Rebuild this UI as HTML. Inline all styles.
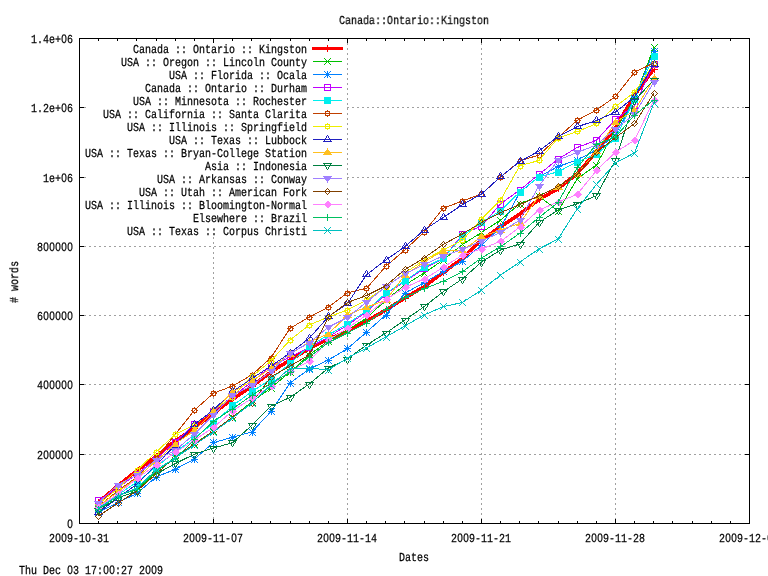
<!DOCTYPE html><html><head><meta charset="utf-8"><title>Canada::Ontario::Kingston</title>
<style>html,body{margin:0;padding:0;background:#fff;}body{width:768px;height:576px;overflow:hidden;}svg{display:block;will-change:transform;}text{font-family:"Liberation Mono",monospace;font-size:12.2px;fill:#000;white-space:pre;text-rendering:geometricPrecision;stroke:#000;stroke-width:0.25px;}.z{font-family:"Liberation Sans",sans-serif;}</style></head><body>
<svg width="768" height="576" viewBox="0 0 768 576">
<defs><filter id="idf" x="-5%" y="-5%" width="110%" height="110%" color-interpolation-filters="sRGB"><feOffset dx="0" dy="0"/></filter></defs>
<rect width="768" height="576" fill="#fff"/>
<g stroke="#a0a0a0" stroke-width="1" stroke-dasharray="2 3" shape-rendering="crispEdges"><line x1="79.0" y1="454.5" x2="750.0" y2="454.5"/><line x1="79.0" y1="384.5" x2="750.0" y2="384.5"/><line x1="79.0" y1="315.5" x2="750.0" y2="315.5"/><line x1="79.0" y1="246.5" x2="750.0" y2="246.5"/><line x1="84" y1="177.5" x2="86" y2="177.5"/><line x1="347" y1="177.5" x2="750.0" y2="177.5"/><line x1="84" y1="107.5" x2="86" y2="107.5"/><line x1="347" y1="107.5" x2="750.0" y2="107.5"/><line x1="213.5" y1="519" x2="213.5" y2="237"/><line x1="347.5" y1="520" x2="347.5" y2="39"/><line x1="481.5" y1="520" x2="481.5" y2="39"/><line x1="615.5" y1="520" x2="615.5" y2="39"/></g>
<g stroke="#000" stroke-width="1" shape-rendering="crispEdges"><rect x="79.5" y="38.5" width="670.0" height="485.0" fill="none"/><line x1="79.5" y1="524.0" x2="79.5" y2="519.0"/><line x1="79.5" y1="38.0" x2="79.5" y2="43.0"/><line x1="98.5" y1="524.0" x2="98.5" y2="521.0"/><line x1="98.5" y1="38.0" x2="98.5" y2="41.0"/><line x1="117.5" y1="524.0" x2="117.5" y2="521.0"/><line x1="117.5" y1="38.0" x2="117.5" y2="41.0"/><line x1="136.5" y1="524.0" x2="136.5" y2="521.0"/><line x1="136.5" y1="38.0" x2="136.5" y2="41.0"/><line x1="156.5" y1="524.0" x2="156.5" y2="521.0"/><line x1="156.5" y1="38.0" x2="156.5" y2="41.0"/><line x1="175.5" y1="524.0" x2="175.5" y2="521.0"/><line x1="175.5" y1="38.0" x2="175.5" y2="41.0"/><line x1="194.5" y1="524.0" x2="194.5" y2="521.0"/><line x1="194.5" y1="38.0" x2="194.5" y2="41.0"/><line x1="213.5" y1="524.0" x2="213.5" y2="519.0"/><line x1="213.5" y1="38.0" x2="213.5" y2="43.0"/><line x1="232.5" y1="524.0" x2="232.5" y2="521.0"/><line x1="232.5" y1="38.0" x2="232.5" y2="41.0"/><line x1="251.5" y1="524.0" x2="251.5" y2="521.0"/><line x1="251.5" y1="38.0" x2="251.5" y2="41.0"/><line x1="270.5" y1="524.0" x2="270.5" y2="521.0"/><line x1="270.5" y1="38.0" x2="270.5" y2="41.0"/><line x1="290.5" y1="524.0" x2="290.5" y2="521.0"/><line x1="290.5" y1="38.0" x2="290.5" y2="41.0"/><line x1="309.5" y1="524.0" x2="309.5" y2="521.0"/><line x1="309.5" y1="38.0" x2="309.5" y2="41.0"/><line x1="328.5" y1="524.0" x2="328.5" y2="521.0"/><line x1="328.5" y1="38.0" x2="328.5" y2="41.0"/><line x1="347.5" y1="524.0" x2="347.5" y2="519.0"/><line x1="347.5" y1="38.0" x2="347.5" y2="43.0"/><line x1="366.5" y1="524.0" x2="366.5" y2="521.0"/><line x1="366.5" y1="38.0" x2="366.5" y2="41.0"/><line x1="385.5" y1="524.0" x2="385.5" y2="521.0"/><line x1="385.5" y1="38.0" x2="385.5" y2="41.0"/><line x1="404.5" y1="524.0" x2="404.5" y2="521.0"/><line x1="404.5" y1="38.0" x2="404.5" y2="41.0"/><line x1="424.5" y1="524.0" x2="424.5" y2="521.0"/><line x1="424.5" y1="38.0" x2="424.5" y2="41.0"/><line x1="443.5" y1="524.0" x2="443.5" y2="521.0"/><line x1="443.5" y1="38.0" x2="443.5" y2="41.0"/><line x1="462.5" y1="524.0" x2="462.5" y2="521.0"/><line x1="462.5" y1="38.0" x2="462.5" y2="41.0"/><line x1="481.5" y1="524.0" x2="481.5" y2="519.0"/><line x1="481.5" y1="38.0" x2="481.5" y2="43.0"/><line x1="500.5" y1="524.0" x2="500.5" y2="521.0"/><line x1="500.5" y1="38.0" x2="500.5" y2="41.0"/><line x1="519.5" y1="524.0" x2="519.5" y2="521.0"/><line x1="519.5" y1="38.0" x2="519.5" y2="41.0"/><line x1="538.5" y1="524.0" x2="538.5" y2="521.0"/><line x1="538.5" y1="38.0" x2="538.5" y2="41.0"/><line x1="558.5" y1="524.0" x2="558.5" y2="521.0"/><line x1="558.5" y1="38.0" x2="558.5" y2="41.0"/><line x1="577.5" y1="524.0" x2="577.5" y2="521.0"/><line x1="577.5" y1="38.0" x2="577.5" y2="41.0"/><line x1="596.5" y1="524.0" x2="596.5" y2="521.0"/><line x1="596.5" y1="38.0" x2="596.5" y2="41.0"/><line x1="615.5" y1="524.0" x2="615.5" y2="519.0"/><line x1="615.5" y1="38.0" x2="615.5" y2="43.0"/><line x1="634.5" y1="524.0" x2="634.5" y2="521.0"/><line x1="634.5" y1="38.0" x2="634.5" y2="41.0"/><line x1="653.5" y1="524.0" x2="653.5" y2="521.0"/><line x1="653.5" y1="38.0" x2="653.5" y2="41.0"/><line x1="672.5" y1="524.0" x2="672.5" y2="521.0"/><line x1="672.5" y1="38.0" x2="672.5" y2="41.0"/><line x1="692.5" y1="524.0" x2="692.5" y2="521.0"/><line x1="692.5" y1="38.0" x2="692.5" y2="41.0"/><line x1="711.5" y1="524.0" x2="711.5" y2="521.0"/><line x1="711.5" y1="38.0" x2="711.5" y2="41.0"/><line x1="730.5" y1="524.0" x2="730.5" y2="521.0"/><line x1="730.5" y1="38.0" x2="730.5" y2="41.0"/><line x1="749.5" y1="524.0" x2="749.5" y2="519.0"/><line x1="749.5" y1="38.0" x2="749.5" y2="43.0"/><line x1="79.0" y1="523.5" x2="84.0" y2="523.5"/><line x1="750.0" y1="523.5" x2="745.0" y2="523.5"/><line x1="79.0" y1="454.5" x2="84.0" y2="454.5"/><line x1="750.0" y1="454.5" x2="745.0" y2="454.5"/><line x1="79.0" y1="384.5" x2="84.0" y2="384.5"/><line x1="750.0" y1="384.5" x2="745.0" y2="384.5"/><line x1="79.0" y1="315.5" x2="84.0" y2="315.5"/><line x1="750.0" y1="315.5" x2="745.0" y2="315.5"/><line x1="79.0" y1="246.5" x2="84.0" y2="246.5"/><line x1="750.0" y1="246.5" x2="745.0" y2="246.5"/><line x1="79.0" y1="177.5" x2="84.0" y2="177.5"/><line x1="750.0" y1="177.5" x2="745.0" y2="177.5"/><line x1="79.0" y1="107.5" x2="84.0" y2="107.5"/><line x1="750.0" y1="107.5" x2="745.0" y2="107.5"/><line x1="79.0" y1="38.5" x2="84.0" y2="38.5"/><line x1="750.0" y1="38.5" x2="745.0" y2="38.5"/></g>
<g filter="url(#idf)">
<text transform="translate(67,528) scale(0.8197,1)" y="0"><tspan class="z" x="0.30">0</tspan></text>
<text transform="translate(37,459) scale(0.8197,1)" y="0"><tspan x="0.00">2</tspan><tspan class="z" x="7.62">0</tspan><tspan class="z" x="14.94">0</tspan><tspan class="z" x="22.26">0</tspan><tspan class="z" x="29.58">0</tspan><tspan class="z" x="36.90">0</tspan></text>
<text transform="translate(37,389) scale(0.8197,1)" y="0"><tspan x="0.00">4</tspan><tspan class="z" x="7.62">0</tspan><tspan class="z" x="14.94">0</tspan><tspan class="z" x="22.26">0</tspan><tspan class="z" x="29.58">0</tspan><tspan class="z" x="36.90">0</tspan></text>
<text transform="translate(37,320) scale(0.8197,1)" y="0"><tspan x="0.00">6</tspan><tspan class="z" x="7.62">0</tspan><tspan class="z" x="14.94">0</tspan><tspan class="z" x="22.26">0</tspan><tspan class="z" x="29.58">0</tspan><tspan class="z" x="36.90">0</tspan></text>
<text transform="translate(37,251) scale(0.8197,1)" y="0"><tspan x="0.00">8</tspan><tspan class="z" x="7.62">0</tspan><tspan class="z" x="14.94">0</tspan><tspan class="z" x="22.26">0</tspan><tspan class="z" x="29.58">0</tspan><tspan class="z" x="36.90">0</tspan></text>
<text transform="translate(43,182) scale(0.8197,1)" y="0"><tspan x="0.00 7.32 14.64">1e+</tspan><tspan class="z" x="22.26">0</tspan><tspan x="29.28">6</tspan></text>
<text transform="translate(31,112) scale(0.8197,1)" y="0"><tspan x="0.00 7.32 14.64 21.96 29.28">1.2e+</tspan><tspan class="z" x="36.90">0</tspan><tspan x="43.92">6</tspan></text>
<text transform="translate(31,43) scale(0.8197,1)" y="0"><tspan x="0.00 7.32 14.64 21.96 29.28">1.4e+</tspan><tspan class="z" x="36.90">0</tspan><tspan x="43.92">6</tspan></text>
<text transform="translate(49.0,542) scale(0.8197,1)" y="0"><tspan x="0.00">2</tspan><tspan class="z" x="7.62">0</tspan><tspan class="z" x="14.94">0</tspan><tspan x="21.96 29.28 36.60">9-1</tspan><tspan class="z" x="44.22">0</tspan><tspan x="51.24 58.56 65.88">-31</tspan></text>
<text transform="translate(183.0,542) scale(0.8197,1)" y="0"><tspan x="0.00">2</tspan><tspan class="z" x="7.62">0</tspan><tspan class="z" x="14.94">0</tspan><tspan x="21.96 29.28 36.60 43.92 51.24">9-11-</tspan><tspan class="z" x="58.86">0</tspan><tspan x="65.88">7</tspan></text>
<text transform="translate(317.0,542) scale(0.8197,1)" y="0"><tspan x="0.00">2</tspan><tspan class="z" x="7.62">0</tspan><tspan class="z" x="14.94">0</tspan><tspan x="21.96 29.28 36.60 43.92 51.24 58.56 65.88">9-11-14</tspan></text>
<text transform="translate(451.0,542) scale(0.8197,1)" y="0"><tspan x="0.00">2</tspan><tspan class="z" x="7.62">0</tspan><tspan class="z" x="14.94">0</tspan><tspan x="21.96 29.28 36.60 43.92 51.24 58.56 65.88">9-11-21</tspan></text>
<text transform="translate(585.0,542) scale(0.8197,1)" y="0"><tspan x="0.00">2</tspan><tspan class="z" x="7.62">0</tspan><tspan class="z" x="14.94">0</tspan><tspan x="21.96 29.28 36.60 43.92 51.24 58.56 65.88">9-11-28</tspan></text>
<text transform="translate(719.0,542) scale(0.8197,1)" y="0"><tspan x="0.00">2</tspan><tspan class="z" x="7.62">0</tspan><tspan class="z" x="14.94">0</tspan><tspan x="21.96 29.28 36.60 43.92 51.24">9-12-</tspan><tspan class="z" x="58.86">0</tspan><tspan x="65.88">5</tspan></text>
<text transform="translate(339.0,24) scale(0.8197,1)" y="0"><tspan x="0.00 7.32 14.64 21.96 29.28 36.60 43.92 51.24 58.56 65.88 73.20 80.52 87.84 95.16 102.48 109.80 117.12 124.44 131.76 139.08 146.40 153.72 161.04 168.36 175.68">Canada::Ontario::Kingston</tspan></text>
<text transform="translate(399.0,561) scale(0.8197,1)" y="0"><tspan x="0.00 7.32 14.64 21.96 29.28">Dates</tspan></text>
<text transform="translate(19,574) scale(0.8197,1)" y="0"><tspan x="0.00 7.32 14.64">Thu</tspan><tspan x="29.28 36.60 43.92">Dec</tspan><tspan class="z" x="58.86">0</tspan><tspan x="65.88">3</tspan><tspan x="80.52 87.84 95.16">17:</tspan><tspan class="z" x="102.78">0</tspan><tspan class="z" x="110.10">0</tspan><tspan x="117.12 124.44 131.76">:27</tspan><tspan x="146.40">2</tspan><tspan class="z" x="154.02">0</tspan><tspan class="z" x="161.34">0</tspan><tspan x="168.36">9</tspan></text>
<text transform="translate(18,282) rotate(-90) translate(-21.0,0) scale(0.8197,1)" y="0"><tspan x="0.00">#</tspan><tspan x="14.64 21.96 29.28 36.60 43.92">words</tspan></text>
</g>
<g filter="url(#idf)"><text transform="translate(133,53) scale(0.8197,1)" y="0"><tspan x="0.00 7.32 14.64 21.96 29.28 36.60">Canada</tspan><tspan x="51.24 58.56">::</tspan><tspan x="73.20 80.52 87.84 95.16 102.48 109.80 117.12">Ontario</tspan><tspan x="131.76 139.08">::</tspan><tspan x="153.72 161.04 168.36 175.68 183.00 190.32 197.64 204.96">Kingston</tspan></text></g>
<g shape-rendering="crispEdges">
<line x1="312" y1="48.5" x2="343" y2="48.5" stroke="#ff0000" stroke-width="3"/>
<polyline fill="none" stroke="#ff0000" stroke-width="3.6" stroke-linejoin="round" points="98.6,502.0 117.8,486.0 136.9,470.5 156.1,456.5 175.2,441.0 194.4,428.0 213.5,413.0 232.6,399.0 251.8,386.5 270.9,372.0 290.1,360.0 309.2,348.5 328.4,339.0 347.5,331.5 366.6,321.0 385.8,310.0 404.9,298.0 424.1,286.7 443.2,272.5 462.4,258.5 481.5,240.0 500.6,226.7 519.8,214.0 538.9,199.5 558.1,188.7 577.2,173.5 596.4,152.0 615.5,127.5 634.6,95.0 653.8,69.0"/>
<path d="M324.0 48.5H331.0M327.5 45.0V52.0" stroke="#ff0000" stroke-width="1" fill="none"/>
<path d="M95.0 502.5H102.0M98.5 499.0V506.0" stroke="#ff0000" stroke-width="1" fill="none"/>
<path d="M115.0 486.5H122.0M118.5 483.0V490.0" stroke="#ff0000" stroke-width="1" fill="none"/>
<path d="M134.0 470.5H141.0M137.5 467.0V474.0" stroke="#ff0000" stroke-width="1" fill="none"/>
<path d="M153.0 456.5H160.0M156.5 453.0V460.0" stroke="#ff0000" stroke-width="1" fill="none"/>
<path d="M172.0 441.5H179.0M175.5 438.0V445.0" stroke="#ff0000" stroke-width="1" fill="none"/>
<path d="M191.0 428.5H198.0M194.5 425.0V432.0" stroke="#ff0000" stroke-width="1" fill="none"/>
<path d="M210.0 413.5H217.0M213.5 410.0V417.0" stroke="#ff0000" stroke-width="1" fill="none"/>
<path d="M229.0 399.5H236.0M232.5 396.0V403.0" stroke="#ff0000" stroke-width="1" fill="none"/>
<path d="M249.0 386.5H256.0M252.5 383.0V390.0" stroke="#ff0000" stroke-width="1" fill="none"/>
<path d="M268.0 372.5H275.0M271.5 369.0V376.0" stroke="#ff0000" stroke-width="1" fill="none"/>
<path d="M287.0 360.5H294.0M290.5 357.0V364.0" stroke="#ff0000" stroke-width="1" fill="none"/>
<path d="M306.0 348.5H313.0M309.5 345.0V352.0" stroke="#ff0000" stroke-width="1" fill="none"/>
<path d="M325.0 339.5H332.0M328.5 336.0V343.0" stroke="#ff0000" stroke-width="1" fill="none"/>
<path d="M344.0 331.5H351.0M347.5 328.0V335.0" stroke="#ff0000" stroke-width="1" fill="none"/>
<path d="M363.0 321.5H370.0M366.5 318.0V325.0" stroke="#ff0000" stroke-width="1" fill="none"/>
<path d="M383.0 310.5H390.0M386.5 307.0V314.0" stroke="#ff0000" stroke-width="1" fill="none"/>
<path d="M402.0 298.5H409.0M405.5 295.0V302.0" stroke="#ff0000" stroke-width="1" fill="none"/>
<path d="M421.0 286.5H428.0M424.5 283.0V290.0" stroke="#ff0000" stroke-width="1" fill="none"/>
<path d="M440.0 272.5H447.0M443.5 269.0V276.0" stroke="#ff0000" stroke-width="1" fill="none"/>
<path d="M459.0 258.5H466.0M462.5 255.0V262.0" stroke="#ff0000" stroke-width="1" fill="none"/>
<path d="M478.0 240.5H485.0M481.5 237.0V244.0" stroke="#ff0000" stroke-width="1" fill="none"/>
<path d="M497.0 226.5H504.0M500.5 223.0V230.0" stroke="#ff0000" stroke-width="1" fill="none"/>
<path d="M517.0 214.5H524.0M520.5 211.0V218.0" stroke="#ff0000" stroke-width="1" fill="none"/>
<path d="M536.0 199.5H543.0M539.5 196.0V203.0" stroke="#ff0000" stroke-width="1" fill="none"/>
<path d="M555.0 188.5H562.0M558.5 185.0V192.0" stroke="#ff0000" stroke-width="1" fill="none"/>
<path d="M574.0 173.5H581.0M577.5 170.0V177.0" stroke="#ff0000" stroke-width="1" fill="none"/>
<path d="M593.0 152.5H600.0M596.5 149.0V156.0" stroke="#ff0000" stroke-width="1" fill="none"/>
<path d="M612.0 127.5H619.0M615.5 124.0V131.0" stroke="#ff0000" stroke-width="1" fill="none"/>
<path d="M631.0 95.5H638.0M634.5 92.0V99.0" stroke="#ff0000" stroke-width="1" fill="none"/>
<path d="M651.0 69.5H658.0M654.5 66.0V73.0" stroke="#ff0000" stroke-width="1" fill="none"/>
</g>
<g filter="url(#idf)"><text transform="translate(121,66) scale(0.8197,1)" y="0"><tspan x="0.00 7.32 14.64">USA</tspan><tspan x="29.28 36.60">::</tspan><tspan x="51.24 58.56 65.88 73.20 80.52 87.84">Oregon</tspan><tspan x="102.48 109.80">::</tspan><tspan x="124.44 131.76 139.08 146.40 153.72 161.04 168.36">Lincoln</tspan><tspan x="183.00 190.32 197.64 204.96 212.28 219.60">County</tspan></text></g>
<g shape-rendering="crispEdges">
<line x1="313" y1="61.5" x2="342" y2="61.5" stroke="#00c000" stroke-width="1"/>
<polyline fill="none" stroke="#00c000" stroke-width="1" stroke-linejoin="round" points="98.6,508.0 117.8,495.0 136.9,490.0 156.1,472.0 175.2,457.0 194.4,443.8 213.5,431.0 232.6,417.0 251.8,402.0 270.9,388.0 290.1,372.0 309.2,355.0 328.4,341.0 347.5,330.0 366.6,318.0 385.8,300.0 404.9,285.0 424.1,273.0 443.2,260.0 462.4,244.5 481.5,232.5 500.6,220.0 519.8,203.8 538.9,196.0 558.1,211.0 577.2,178.8 596.4,165.0 615.5,130.0 634.6,98.0 653.8,47.5"/>
<path d="M324.0 58.0L331.0 65.0M324.0 65.0L331.0 58.0" stroke="#00c000" stroke-width="1" fill="none"/>
<path d="M95.0 505.0L102.0 512.0M95.0 512.0L102.0 505.0" stroke="#00c000" stroke-width="1" fill="none"/>
<path d="M115.0 492.0L122.0 499.0M115.0 499.0L122.0 492.0" stroke="#00c000" stroke-width="1" fill="none"/>
<path d="M134.0 487.0L141.0 494.0M134.0 494.0L141.0 487.0" stroke="#00c000" stroke-width="1" fill="none"/>
<path d="M153.0 469.0L160.0 476.0M153.0 476.0L160.0 469.0" stroke="#00c000" stroke-width="1" fill="none"/>
<path d="M172.0 454.0L179.0 461.0M172.0 461.0L179.0 454.0" stroke="#00c000" stroke-width="1" fill="none"/>
<path d="M191.0 441.0L198.0 448.0M191.0 448.0L198.0 441.0" stroke="#00c000" stroke-width="1" fill="none"/>
<path d="M210.0 428.0L217.0 435.0M210.0 435.0L217.0 428.0" stroke="#00c000" stroke-width="1" fill="none"/>
<path d="M229.0 414.0L236.0 421.0M229.0 421.0L236.0 414.0" stroke="#00c000" stroke-width="1" fill="none"/>
<path d="M249.0 399.0L256.0 406.0M249.0 406.0L256.0 399.0" stroke="#00c000" stroke-width="1" fill="none"/>
<path d="M268.0 385.0L275.0 392.0M268.0 392.0L275.0 385.0" stroke="#00c000" stroke-width="1" fill="none"/>
<path d="M287.0 369.0L294.0 376.0M287.0 376.0L294.0 369.0" stroke="#00c000" stroke-width="1" fill="none"/>
<path d="M306.0 352.0L313.0 359.0M306.0 359.0L313.0 352.0" stroke="#00c000" stroke-width="1" fill="none"/>
<path d="M325.0 338.0L332.0 345.0M325.0 345.0L332.0 338.0" stroke="#00c000" stroke-width="1" fill="none"/>
<path d="M344.0 327.0L351.0 334.0M344.0 334.0L351.0 327.0" stroke="#00c000" stroke-width="1" fill="none"/>
<path d="M363.0 315.0L370.0 322.0M363.0 322.0L370.0 315.0" stroke="#00c000" stroke-width="1" fill="none"/>
<path d="M383.0 297.0L390.0 304.0M383.0 304.0L390.0 297.0" stroke="#00c000" stroke-width="1" fill="none"/>
<path d="M402.0 282.0L409.0 289.0M402.0 289.0L409.0 282.0" stroke="#00c000" stroke-width="1" fill="none"/>
<path d="M421.0 270.0L428.0 277.0M421.0 277.0L428.0 270.0" stroke="#00c000" stroke-width="1" fill="none"/>
<path d="M440.0 257.0L447.0 264.0M440.0 264.0L447.0 257.0" stroke="#00c000" stroke-width="1" fill="none"/>
<path d="M459.0 241.0L466.0 248.0M459.0 248.0L466.0 241.0" stroke="#00c000" stroke-width="1" fill="none"/>
<path d="M478.0 229.0L485.0 236.0M478.0 236.0L485.0 229.0" stroke="#00c000" stroke-width="1" fill="none"/>
<path d="M497.0 217.0L504.0 224.0M497.0 224.0L504.0 217.0" stroke="#00c000" stroke-width="1" fill="none"/>
<path d="M517.0 201.0L524.0 208.0M517.0 208.0L524.0 201.0" stroke="#00c000" stroke-width="1" fill="none"/>
<path d="M536.0 193.0L543.0 200.0M536.0 200.0L543.0 193.0" stroke="#00c000" stroke-width="1" fill="none"/>
<path d="M555.0 208.0L562.0 215.0M555.0 215.0L562.0 208.0" stroke="#00c000" stroke-width="1" fill="none"/>
<path d="M574.0 176.0L581.0 183.0M574.0 183.0L581.0 176.0" stroke="#00c000" stroke-width="1" fill="none"/>
<path d="M593.0 162.0L600.0 169.0M593.0 169.0L600.0 162.0" stroke="#00c000" stroke-width="1" fill="none"/>
<path d="M612.0 127.0L619.0 134.0M612.0 134.0L619.0 127.0" stroke="#00c000" stroke-width="1" fill="none"/>
<path d="M631.0 95.0L638.0 102.0M631.0 102.0L638.0 95.0" stroke="#00c000" stroke-width="1" fill="none"/>
<path d="M651.0 44.0L658.0 51.0M651.0 51.0L658.0 44.0" stroke="#00c000" stroke-width="1" fill="none"/>
</g>
<g filter="url(#idf)"><text transform="translate(169,79) scale(0.8197,1)" y="0"><tspan x="0.00 7.32 14.64">USA</tspan><tspan x="29.28 36.60">::</tspan><tspan x="51.24 58.56 65.88 73.20 80.52 87.84 95.16">Florida</tspan><tspan x="109.80 117.12">::</tspan><tspan x="131.76 139.08 146.40 153.72 161.04">Ocala</tspan></text></g>
<g shape-rendering="crispEdges">
<line x1="313" y1="74.5" x2="342" y2="74.5" stroke="#0080ff" stroke-width="1"/>
<polyline fill="none" stroke="#0080ff" stroke-width="1" stroke-linejoin="round" points="98.6,512.0 117.8,502.5 136.9,493.5 156.1,477.0 175.2,469.3 194.4,459.0 213.5,442.7 232.6,437.2 251.8,432.0 270.9,411.7 290.1,383.0 309.2,369.0 328.4,360.0 347.5,348.6 366.6,332.0 385.8,315.0 404.9,293.3 424.1,282.5 443.2,271.7 462.4,261.3 481.5,245.0 500.6,227.5 519.8,192.5 538.9,176.7 558.1,166.5 577.2,160.0 596.4,150.0 615.5,135.0 634.6,98.0 653.8,51.0"/>
<path d="M324.0 74.5H331.0M327.5 71.0V78.0M324.0 71.0L331.0 78.0M324.0 78.0L331.0 71.0" stroke="#0080ff" stroke-width="1" fill="none"/>
<path d="M95.0 512.5H102.0M98.5 509.0V516.0M95.0 509.0L102.0 516.0M95.0 516.0L102.0 509.0" stroke="#0080ff" stroke-width="1" fill="none"/>
<path d="M115.0 502.5H122.0M118.5 499.0V506.0M115.0 499.0L122.0 506.0M115.0 506.0L122.0 499.0" stroke="#0080ff" stroke-width="1" fill="none"/>
<path d="M134.0 493.5H141.0M137.5 490.0V497.0M134.0 490.0L141.0 497.0M134.0 497.0L141.0 490.0" stroke="#0080ff" stroke-width="1" fill="none"/>
<path d="M153.0 477.5H160.0M156.5 474.0V481.0M153.0 474.0L160.0 481.0M153.0 481.0L160.0 474.0" stroke="#0080ff" stroke-width="1" fill="none"/>
<path d="M172.0 469.5H179.0M175.5 466.0V473.0M172.0 466.0L179.0 473.0M172.0 473.0L179.0 466.0" stroke="#0080ff" stroke-width="1" fill="none"/>
<path d="M191.0 459.5H198.0M194.5 456.0V463.0M191.0 456.0L198.0 463.0M191.0 463.0L198.0 456.0" stroke="#0080ff" stroke-width="1" fill="none"/>
<path d="M210.0 442.5H217.0M213.5 439.0V446.0M210.0 439.0L217.0 446.0M210.0 446.0L217.0 439.0" stroke="#0080ff" stroke-width="1" fill="none"/>
<path d="M229.0 437.5H236.0M232.5 434.0V441.0M229.0 434.0L236.0 441.0M229.0 441.0L236.0 434.0" stroke="#0080ff" stroke-width="1" fill="none"/>
<path d="M249.0 432.5H256.0M252.5 429.0V436.0M249.0 429.0L256.0 436.0M249.0 436.0L256.0 429.0" stroke="#0080ff" stroke-width="1" fill="none"/>
<path d="M268.0 411.5H275.0M271.5 408.0V415.0M268.0 408.0L275.0 415.0M268.0 415.0L275.0 408.0" stroke="#0080ff" stroke-width="1" fill="none"/>
<path d="M287.0 383.5H294.0M290.5 380.0V387.0M287.0 380.0L294.0 387.0M287.0 387.0L294.0 380.0" stroke="#0080ff" stroke-width="1" fill="none"/>
<path d="M306.0 369.5H313.0M309.5 366.0V373.0M306.0 366.0L313.0 373.0M306.0 373.0L313.0 366.0" stroke="#0080ff" stroke-width="1" fill="none"/>
<path d="M325.0 360.5H332.0M328.5 357.0V364.0M325.0 357.0L332.0 364.0M325.0 364.0L332.0 357.0" stroke="#0080ff" stroke-width="1" fill="none"/>
<path d="M344.0 348.5H351.0M347.5 345.0V352.0M344.0 345.0L351.0 352.0M344.0 352.0L351.0 345.0" stroke="#0080ff" stroke-width="1" fill="none"/>
<path d="M363.0 332.5H370.0M366.5 329.0V336.0M363.0 329.0L370.0 336.0M363.0 336.0L370.0 329.0" stroke="#0080ff" stroke-width="1" fill="none"/>
<path d="M383.0 315.5H390.0M386.5 312.0V319.0M383.0 312.0L390.0 319.0M383.0 319.0L390.0 312.0" stroke="#0080ff" stroke-width="1" fill="none"/>
<path d="M402.0 293.5H409.0M405.5 290.0V297.0M402.0 290.0L409.0 297.0M402.0 297.0L409.0 290.0" stroke="#0080ff" stroke-width="1" fill="none"/>
<path d="M421.0 282.5H428.0M424.5 279.0V286.0M421.0 279.0L428.0 286.0M421.0 286.0L428.0 279.0" stroke="#0080ff" stroke-width="1" fill="none"/>
<path d="M440.0 271.5H447.0M443.5 268.0V275.0M440.0 268.0L447.0 275.0M440.0 275.0L447.0 268.0" stroke="#0080ff" stroke-width="1" fill="none"/>
<path d="M459.0 261.5H466.0M462.5 258.0V265.0M459.0 258.0L466.0 265.0M459.0 265.0L466.0 258.0" stroke="#0080ff" stroke-width="1" fill="none"/>
<path d="M478.0 245.5H485.0M481.5 242.0V249.0M478.0 242.0L485.0 249.0M478.0 249.0L485.0 242.0" stroke="#0080ff" stroke-width="1" fill="none"/>
<path d="M497.0 227.5H504.0M500.5 224.0V231.0M497.0 224.0L504.0 231.0M497.0 231.0L504.0 224.0" stroke="#0080ff" stroke-width="1" fill="none"/>
<path d="M517.0 192.5H524.0M520.5 189.0V196.0M517.0 189.0L524.0 196.0M517.0 196.0L524.0 189.0" stroke="#0080ff" stroke-width="1" fill="none"/>
<path d="M536.0 176.5H543.0M539.5 173.0V180.0M536.0 173.0L543.0 180.0M536.0 180.0L543.0 173.0" stroke="#0080ff" stroke-width="1" fill="none"/>
<path d="M555.0 166.5H562.0M558.5 163.0V170.0M555.0 163.0L562.0 170.0M555.0 170.0L562.0 163.0" stroke="#0080ff" stroke-width="1" fill="none"/>
<path d="M574.0 160.5H581.0M577.5 157.0V164.0M574.0 157.0L581.0 164.0M574.0 164.0L581.0 157.0" stroke="#0080ff" stroke-width="1" fill="none"/>
<path d="M593.0 150.5H600.0M596.5 147.0V154.0M593.0 147.0L600.0 154.0M593.0 154.0L600.0 147.0" stroke="#0080ff" stroke-width="1" fill="none"/>
<path d="M612.0 135.5H619.0M615.5 132.0V139.0M612.0 132.0L619.0 139.0M612.0 139.0L619.0 132.0" stroke="#0080ff" stroke-width="1" fill="none"/>
<path d="M631.0 98.5H638.0M634.5 95.0V102.0M631.0 95.0L638.0 102.0M631.0 102.0L638.0 95.0" stroke="#0080ff" stroke-width="1" fill="none"/>
<path d="M651.0 51.5H658.0M654.5 48.0V55.0M651.0 48.0L658.0 55.0M651.0 55.0L658.0 48.0" stroke="#0080ff" stroke-width="1" fill="none"/>
</g>
<g filter="url(#idf)"><text transform="translate(145,92) scale(0.8197,1)" y="0"><tspan x="0.00 7.32 14.64 21.96 29.28 36.60">Canada</tspan><tspan x="51.24 58.56">::</tspan><tspan x="73.20 80.52 87.84 95.16 102.48 109.80 117.12">Ontario</tspan><tspan x="131.76 139.08">::</tspan><tspan x="153.72 161.04 168.36 175.68 183.00 190.32">Durham</tspan></text></g>
<g shape-rendering="crispEdges">
<line x1="313" y1="87.5" x2="342" y2="87.5" stroke="#c000ff" stroke-width="1"/>
<polyline fill="none" stroke="#c000ff" stroke-width="1" stroke-linejoin="round" points="98.6,500.4 117.8,488.0 136.9,474.0 156.1,459.0 175.2,442.0 194.4,424.4 213.5,411.0 232.6,396.5 251.8,382.0 270.9,366.0 290.1,357.0 309.2,347.7 328.4,337.0 347.5,325.0 366.6,312.0 385.8,294.0 404.9,281.5 424.1,268.5 443.2,258.5 462.4,234.5 481.5,225.8 500.6,203.8 519.8,190.0 538.9,174.5 558.1,159.0 577.2,147.5 596.4,140.3 615.5,119.4 634.6,105.5 653.8,64.0"/>
<rect x="324.5" y="84.5" width="6" height="6" stroke="#c000ff" stroke-width="1" fill="none"/>
<rect x="95.5" y="497.5" width="6" height="6" stroke="#c000ff" stroke-width="1" fill="none"/>
<rect x="115.5" y="485.5" width="6" height="6" stroke="#c000ff" stroke-width="1" fill="none"/>
<rect x="134.5" y="471.5" width="6" height="6" stroke="#c000ff" stroke-width="1" fill="none"/>
<rect x="153.5" y="456.5" width="6" height="6" stroke="#c000ff" stroke-width="1" fill="none"/>
<rect x="172.5" y="439.5" width="6" height="6" stroke="#c000ff" stroke-width="1" fill="none"/>
<rect x="191.5" y="421.5" width="6" height="6" stroke="#c000ff" stroke-width="1" fill="none"/>
<rect x="210.5" y="408.5" width="6" height="6" stroke="#c000ff" stroke-width="1" fill="none"/>
<rect x="229.5" y="393.5" width="6" height="6" stroke="#c000ff" stroke-width="1" fill="none"/>
<rect x="249.5" y="379.5" width="6" height="6" stroke="#c000ff" stroke-width="1" fill="none"/>
<rect x="268.5" y="363.5" width="6" height="6" stroke="#c000ff" stroke-width="1" fill="none"/>
<rect x="287.5" y="354.5" width="6" height="6" stroke="#c000ff" stroke-width="1" fill="none"/>
<rect x="306.5" y="344.5" width="6" height="6" stroke="#c000ff" stroke-width="1" fill="none"/>
<rect x="325.5" y="334.5" width="6" height="6" stroke="#c000ff" stroke-width="1" fill="none"/>
<rect x="344.5" y="322.5" width="6" height="6" stroke="#c000ff" stroke-width="1" fill="none"/>
<rect x="363.5" y="309.5" width="6" height="6" stroke="#c000ff" stroke-width="1" fill="none"/>
<rect x="383.5" y="291.5" width="6" height="6" stroke="#c000ff" stroke-width="1" fill="none"/>
<rect x="402.5" y="278.5" width="6" height="6" stroke="#c000ff" stroke-width="1" fill="none"/>
<rect x="421.5" y="265.5" width="6" height="6" stroke="#c000ff" stroke-width="1" fill="none"/>
<rect x="440.5" y="255.5" width="6" height="6" stroke="#c000ff" stroke-width="1" fill="none"/>
<rect x="459.5" y="231.5" width="6" height="6" stroke="#c000ff" stroke-width="1" fill="none"/>
<rect x="478.5" y="223.5" width="6" height="6" stroke="#c000ff" stroke-width="1" fill="none"/>
<rect x="497.5" y="201.5" width="6" height="6" stroke="#c000ff" stroke-width="1" fill="none"/>
<rect x="517.5" y="187.5" width="6" height="6" stroke="#c000ff" stroke-width="1" fill="none"/>
<rect x="536.5" y="171.5" width="6" height="6" stroke="#c000ff" stroke-width="1" fill="none"/>
<rect x="555.5" y="156.5" width="6" height="6" stroke="#c000ff" stroke-width="1" fill="none"/>
<rect x="574.5" y="144.5" width="6" height="6" stroke="#c000ff" stroke-width="1" fill="none"/>
<rect x="593.5" y="137.5" width="6" height="6" stroke="#c000ff" stroke-width="1" fill="none"/>
<rect x="612.5" y="116.5" width="6" height="6" stroke="#c000ff" stroke-width="1" fill="none"/>
<rect x="631.5" y="102.5" width="6" height="6" stroke="#c000ff" stroke-width="1" fill="none"/>
<rect x="651.5" y="61.5" width="6" height="6" stroke="#c000ff" stroke-width="1" fill="none"/>
</g>
<g filter="url(#idf)"><text transform="translate(133,105) scale(0.8197,1)" y="0"><tspan x="0.00 7.32 14.64">USA</tspan><tspan x="29.28 36.60">::</tspan><tspan x="51.24 58.56 65.88 73.20 80.52 87.84 95.16 102.48 109.80">Minnesota</tspan><tspan x="124.44 131.76">::</tspan><tspan x="146.40 153.72 161.04 168.36 175.68 183.00 190.32 197.64 204.96">Rochester</tspan></text></g>
<g shape-rendering="crispEdges">
<line x1="313" y1="100.5" x2="342" y2="100.5" stroke="#00eeee" stroke-width="1"/>
<polyline fill="none" stroke="#00eeee" stroke-width="1" stroke-linejoin="round" points="98.6,507.0 117.8,495.0 136.9,482.0 156.1,467.0 175.2,452.0 194.4,438.0 213.5,423.3 232.6,405.7 251.8,391.7 270.9,379.2 290.1,363.5 309.2,346.0 328.4,335.0 347.5,323.8 366.6,310.6 385.8,293.3 404.9,280.8 424.1,267.5 443.2,258.3 462.4,236.0 481.5,222.5 500.6,210.8 519.8,192.0 538.9,176.8 558.1,171.8 577.2,161.8 596.4,154.3 615.5,138.7 634.6,99.0 653.8,56.0"/>
<rect x="324.0" y="97.0" width="7" height="7" fill="#00eeee"/>
<rect x="95.0" y="504.0" width="7" height="7" fill="#00eeee"/>
<rect x="115.0" y="492.0" width="7" height="7" fill="#00eeee"/>
<rect x="134.0" y="479.0" width="7" height="7" fill="#00eeee"/>
<rect x="153.0" y="464.0" width="7" height="7" fill="#00eeee"/>
<rect x="172.0" y="449.0" width="7" height="7" fill="#00eeee"/>
<rect x="191.0" y="435.0" width="7" height="7" fill="#00eeee"/>
<rect x="210.0" y="420.0" width="7" height="7" fill="#00eeee"/>
<rect x="229.0" y="402.0" width="7" height="7" fill="#00eeee"/>
<rect x="249.0" y="388.0" width="7" height="7" fill="#00eeee"/>
<rect x="268.0" y="376.0" width="7" height="7" fill="#00eeee"/>
<rect x="287.0" y="360.0" width="7" height="7" fill="#00eeee"/>
<rect x="306.0" y="343.0" width="7" height="7" fill="#00eeee"/>
<rect x="325.0" y="332.0" width="7" height="7" fill="#00eeee"/>
<rect x="344.0" y="321.0" width="7" height="7" fill="#00eeee"/>
<rect x="363.0" y="307.0" width="7" height="7" fill="#00eeee"/>
<rect x="383.0" y="290.0" width="7" height="7" fill="#00eeee"/>
<rect x="402.0" y="278.0" width="7" height="7" fill="#00eeee"/>
<rect x="421.0" y="264.0" width="7" height="7" fill="#00eeee"/>
<rect x="440.0" y="255.0" width="7" height="7" fill="#00eeee"/>
<rect x="459.0" y="233.0" width="7" height="7" fill="#00eeee"/>
<rect x="478.0" y="219.0" width="7" height="7" fill="#00eeee"/>
<rect x="497.0" y="208.0" width="7" height="7" fill="#00eeee"/>
<rect x="517.0" y="189.0" width="7" height="7" fill="#00eeee"/>
<rect x="536.0" y="174.0" width="7" height="7" fill="#00eeee"/>
<rect x="555.0" y="169.0" width="7" height="7" fill="#00eeee"/>
<rect x="574.0" y="159.0" width="7" height="7" fill="#00eeee"/>
<rect x="593.0" y="151.0" width="7" height="7" fill="#00eeee"/>
<rect x="612.0" y="135.0" width="7" height="7" fill="#00eeee"/>
<rect x="631.0" y="96.0" width="7" height="7" fill="#00eeee"/>
<rect x="651.0" y="53.0" width="7" height="7" fill="#00eeee"/>
</g>
<g filter="url(#idf)"><text transform="translate(103,118) scale(0.8197,1)" y="0"><tspan x="0.00 7.32 14.64">USA</tspan><tspan x="29.28 36.60">::</tspan><tspan x="51.24 58.56 65.88 73.20 80.52 87.84 95.16 102.48 109.80 117.12">California</tspan><tspan x="131.76 139.08">::</tspan><tspan x="153.72 161.04 168.36 175.68 183.00">Santa</tspan><tspan x="197.64 204.96 212.28 219.60 226.92 234.24 241.56">Clarita</tspan></text></g>
<g shape-rendering="crispEdges">
<line x1="313" y1="113.5" x2="342" y2="113.5" stroke="#c04000" stroke-width="1"/>
<polyline fill="none" stroke="#c04000" stroke-width="1" stroke-linejoin="round" points="98.6,506.0 117.8,491.0 136.9,477.0 156.1,458.0 175.2,434.5 194.4,410.3 213.5,393.2 232.6,386.0 251.8,375.0 270.9,357.8 290.1,328.2 309.2,317.2 328.4,307.2 347.5,292.8 366.6,288.3 385.8,266.3 404.9,250.0 424.1,232.0 443.2,208.3 462.4,201.0 481.5,194.0 500.6,177.0 519.8,161.0 538.9,155.0 558.1,137.5 577.2,120.3 596.4,110.0 615.5,96.5 634.6,72.2 653.8,63.0"/>
<path d="M325.0 111.0h5v1h-5zM325.0 115.0h5v1h-5zM325.0 112.0h1v3h-1zM329.0 112.0h1v3h-1zM327.0 110.0h1v1h-1zM327.0 116.0h1v1h-1zM324.0 113.0h1v1h-1zM330.0 113.0h1v1h-1z" fill="#c04000"/>
<path d="M96.0 504.0h5v1h-5zM96.0 508.0h5v1h-5zM96.0 505.0h1v3h-1zM100.0 505.0h1v3h-1zM98.0 503.0h1v1h-1zM98.0 509.0h1v1h-1zM95.0 506.0h1v1h-1zM101.0 506.0h1v1h-1z" fill="#c04000"/>
<path d="M116.0 489.0h5v1h-5zM116.0 493.0h5v1h-5zM116.0 490.0h1v3h-1zM120.0 490.0h1v3h-1zM118.0 488.0h1v1h-1zM118.0 494.0h1v1h-1zM115.0 491.0h1v1h-1zM121.0 491.0h1v1h-1z" fill="#c04000"/>
<path d="M135.0 475.0h5v1h-5zM135.0 479.0h5v1h-5zM135.0 476.0h1v3h-1zM139.0 476.0h1v3h-1zM137.0 474.0h1v1h-1zM137.0 480.0h1v1h-1zM134.0 477.0h1v1h-1zM140.0 477.0h1v1h-1z" fill="#c04000"/>
<path d="M154.0 456.0h5v1h-5zM154.0 460.0h5v1h-5zM154.0 457.0h1v3h-1zM158.0 457.0h1v3h-1zM156.0 455.0h1v1h-1zM156.0 461.0h1v1h-1zM153.0 458.0h1v1h-1zM159.0 458.0h1v1h-1z" fill="#c04000"/>
<path d="M173.0 432.0h5v1h-5zM173.0 436.0h5v1h-5zM173.0 433.0h1v3h-1zM177.0 433.0h1v3h-1zM175.0 431.0h1v1h-1zM175.0 437.0h1v1h-1zM172.0 434.0h1v1h-1zM178.0 434.0h1v1h-1z" fill="#c04000"/>
<path d="M192.0 408.0h5v1h-5zM192.0 412.0h5v1h-5zM192.0 409.0h1v3h-1zM196.0 409.0h1v3h-1zM194.0 407.0h1v1h-1zM194.0 413.0h1v1h-1zM191.0 410.0h1v1h-1zM197.0 410.0h1v1h-1z" fill="#c04000"/>
<path d="M211.0 391.0h5v1h-5zM211.0 395.0h5v1h-5zM211.0 392.0h1v3h-1zM215.0 392.0h1v3h-1zM213.0 390.0h1v1h-1zM213.0 396.0h1v1h-1zM210.0 393.0h1v1h-1zM216.0 393.0h1v1h-1z" fill="#c04000"/>
<path d="M230.0 384.0h5v1h-5zM230.0 388.0h5v1h-5zM230.0 385.0h1v3h-1zM234.0 385.0h1v3h-1zM232.0 383.0h1v1h-1zM232.0 389.0h1v1h-1zM229.0 386.0h1v1h-1zM235.0 386.0h1v1h-1z" fill="#c04000"/>
<path d="M250.0 373.0h5v1h-5zM250.0 377.0h5v1h-5zM250.0 374.0h1v3h-1zM254.0 374.0h1v3h-1zM252.0 372.0h1v1h-1zM252.0 378.0h1v1h-1zM249.0 375.0h1v1h-1zM255.0 375.0h1v1h-1z" fill="#c04000"/>
<path d="M269.0 356.0h5v1h-5zM269.0 360.0h5v1h-5zM269.0 357.0h1v3h-1zM273.0 357.0h1v3h-1zM271.0 355.0h1v1h-1zM271.0 361.0h1v1h-1zM268.0 358.0h1v1h-1zM274.0 358.0h1v1h-1z" fill="#c04000"/>
<path d="M288.0 326.0h5v1h-5zM288.0 330.0h5v1h-5zM288.0 327.0h1v3h-1zM292.0 327.0h1v3h-1zM290.0 325.0h1v1h-1zM290.0 331.0h1v1h-1zM287.0 328.0h1v1h-1zM293.0 328.0h1v1h-1z" fill="#c04000"/>
<path d="M307.0 315.0h5v1h-5zM307.0 319.0h5v1h-5zM307.0 316.0h1v3h-1zM311.0 316.0h1v3h-1zM309.0 314.0h1v1h-1zM309.0 320.0h1v1h-1zM306.0 317.0h1v1h-1zM312.0 317.0h1v1h-1z" fill="#c04000"/>
<path d="M326.0 305.0h5v1h-5zM326.0 309.0h5v1h-5zM326.0 306.0h1v3h-1zM330.0 306.0h1v3h-1zM328.0 304.0h1v1h-1zM328.0 310.0h1v1h-1zM325.0 307.0h1v1h-1zM331.0 307.0h1v1h-1z" fill="#c04000"/>
<path d="M345.0 291.0h5v1h-5zM345.0 295.0h5v1h-5zM345.0 292.0h1v3h-1zM349.0 292.0h1v3h-1zM347.0 290.0h1v1h-1zM347.0 296.0h1v1h-1zM344.0 293.0h1v1h-1zM350.0 293.0h1v1h-1z" fill="#c04000"/>
<path d="M364.0 286.0h5v1h-5zM364.0 290.0h5v1h-5zM364.0 287.0h1v3h-1zM368.0 287.0h1v3h-1zM366.0 285.0h1v1h-1zM366.0 291.0h1v1h-1zM363.0 288.0h1v1h-1zM369.0 288.0h1v1h-1z" fill="#c04000"/>
<path d="M384.0 264.0h5v1h-5zM384.0 268.0h5v1h-5zM384.0 265.0h1v3h-1zM388.0 265.0h1v3h-1zM386.0 263.0h1v1h-1zM386.0 269.0h1v1h-1zM383.0 266.0h1v1h-1zM389.0 266.0h1v1h-1z" fill="#c04000"/>
<path d="M403.0 248.0h5v1h-5zM403.0 252.0h5v1h-5zM403.0 249.0h1v3h-1zM407.0 249.0h1v3h-1zM405.0 247.0h1v1h-1zM405.0 253.0h1v1h-1zM402.0 250.0h1v1h-1zM408.0 250.0h1v1h-1z" fill="#c04000"/>
<path d="M422.0 230.0h5v1h-5zM422.0 234.0h5v1h-5zM422.0 231.0h1v3h-1zM426.0 231.0h1v3h-1zM424.0 229.0h1v1h-1zM424.0 235.0h1v1h-1zM421.0 232.0h1v1h-1zM427.0 232.0h1v1h-1z" fill="#c04000"/>
<path d="M441.0 206.0h5v1h-5zM441.0 210.0h5v1h-5zM441.0 207.0h1v3h-1zM445.0 207.0h1v3h-1zM443.0 205.0h1v1h-1zM443.0 211.0h1v1h-1zM440.0 208.0h1v1h-1zM446.0 208.0h1v1h-1z" fill="#c04000"/>
<path d="M460.0 199.0h5v1h-5zM460.0 203.0h5v1h-5zM460.0 200.0h1v3h-1zM464.0 200.0h1v3h-1zM462.0 198.0h1v1h-1zM462.0 204.0h1v1h-1zM459.0 201.0h1v1h-1zM465.0 201.0h1v1h-1z" fill="#c04000"/>
<path d="M479.0 192.0h5v1h-5zM479.0 196.0h5v1h-5zM479.0 193.0h1v3h-1zM483.0 193.0h1v3h-1zM481.0 191.0h1v1h-1zM481.0 197.0h1v1h-1zM478.0 194.0h1v1h-1zM484.0 194.0h1v1h-1z" fill="#c04000"/>
<path d="M498.0 175.0h5v1h-5zM498.0 179.0h5v1h-5zM498.0 176.0h1v3h-1zM502.0 176.0h1v3h-1zM500.0 174.0h1v1h-1zM500.0 180.0h1v1h-1zM497.0 177.0h1v1h-1zM503.0 177.0h1v1h-1z" fill="#c04000"/>
<path d="M518.0 159.0h5v1h-5zM518.0 163.0h5v1h-5zM518.0 160.0h1v3h-1zM522.0 160.0h1v3h-1zM520.0 158.0h1v1h-1zM520.0 164.0h1v1h-1zM517.0 161.0h1v1h-1zM523.0 161.0h1v1h-1z" fill="#c04000"/>
<path d="M537.0 153.0h5v1h-5zM537.0 157.0h5v1h-5zM537.0 154.0h1v3h-1zM541.0 154.0h1v3h-1zM539.0 152.0h1v1h-1zM539.0 158.0h1v1h-1zM536.0 155.0h1v1h-1zM542.0 155.0h1v1h-1z" fill="#c04000"/>
<path d="M556.0 135.0h5v1h-5zM556.0 139.0h5v1h-5zM556.0 136.0h1v3h-1zM560.0 136.0h1v3h-1zM558.0 134.0h1v1h-1zM558.0 140.0h1v1h-1zM555.0 137.0h1v1h-1zM561.0 137.0h1v1h-1z" fill="#c04000"/>
<path d="M575.0 118.0h5v1h-5zM575.0 122.0h5v1h-5zM575.0 119.0h1v3h-1zM579.0 119.0h1v3h-1zM577.0 117.0h1v1h-1zM577.0 123.0h1v1h-1zM574.0 120.0h1v1h-1zM580.0 120.0h1v1h-1z" fill="#c04000"/>
<path d="M594.0 108.0h5v1h-5zM594.0 112.0h5v1h-5zM594.0 109.0h1v3h-1zM598.0 109.0h1v3h-1zM596.0 107.0h1v1h-1zM596.0 113.0h1v1h-1zM593.0 110.0h1v1h-1zM599.0 110.0h1v1h-1z" fill="#c04000"/>
<path d="M613.0 94.0h5v1h-5zM613.0 98.0h5v1h-5zM613.0 95.0h1v3h-1zM617.0 95.0h1v3h-1zM615.0 93.0h1v1h-1zM615.0 99.0h1v1h-1zM612.0 96.0h1v1h-1zM618.0 96.0h1v1h-1z" fill="#c04000"/>
<path d="M632.0 70.0h5v1h-5zM632.0 74.0h5v1h-5zM632.0 71.0h1v3h-1zM636.0 71.0h1v3h-1zM634.0 69.0h1v1h-1zM634.0 75.0h1v1h-1zM631.0 72.0h1v1h-1zM637.0 72.0h1v1h-1z" fill="#c04000"/>
<path d="M652.0 61.0h5v1h-5zM652.0 65.0h5v1h-5zM652.0 62.0h1v3h-1zM656.0 62.0h1v3h-1zM654.0 60.0h1v1h-1zM654.0 66.0h1v1h-1zM651.0 63.0h1v1h-1zM657.0 63.0h1v1h-1z" fill="#c04000"/>
</g>
<g filter="url(#idf)"><text transform="translate(127,131) scale(0.8197,1)" y="0"><tspan x="0.00 7.32 14.64">USA</tspan><tspan x="29.28 36.60">::</tspan><tspan x="51.24 58.56 65.88 73.20 80.52 87.84 95.16 102.48">Illinois</tspan><tspan x="117.12 124.44">::</tspan><tspan x="139.08 146.40 153.72 161.04 168.36 175.68 183.00 190.32 197.64 204.96 212.28">Springfield</tspan></text></g>
<g shape-rendering="crispEdges">
<line x1="313" y1="126.5" x2="342" y2="126.5" stroke="#eeee00" stroke-width="1"/>
<polyline fill="none" stroke="#eeee00" stroke-width="1" stroke-linejoin="round" points="98.6,504.0 117.8,488.5 136.9,470.3 156.1,452.0 175.2,434.4 194.4,425.0 213.5,410.0 232.6,397.0 251.8,376.6 270.9,361.0 290.1,340.0 309.2,325.0 328.4,317.0 347.5,310.0 366.6,300.0 385.8,287.0 404.9,273.0 424.1,260.0 443.2,250.0 462.4,240.5 481.5,219.0 500.6,200.0 519.8,165.8 538.9,160.5 558.1,138.0 577.2,131.7 596.4,123.6 615.5,106.4 634.6,92.2 653.8,64.0"/>
<path d="M325.0 124.0h5v1h-5zM325.0 128.0h5v1h-5zM325.0 125.0h1v3h-1zM329.0 125.0h1v3h-1zM327.0 123.0h1v1h-1zM327.0 129.0h1v1h-1zM324.0 126.0h1v1h-1zM330.0 126.0h1v1h-1z" fill="#eeee00"/>
<path d="M96.0 502.0h5v1h-5zM96.0 506.0h5v1h-5zM96.0 503.0h1v3h-1zM100.0 503.0h1v3h-1zM98.0 501.0h1v1h-1zM98.0 507.0h1v1h-1zM95.0 504.0h1v1h-1zM101.0 504.0h1v1h-1z" fill="#eeee00"/>
<path d="M116.0 486.0h5v1h-5zM116.0 490.0h5v1h-5zM116.0 487.0h1v3h-1zM120.0 487.0h1v3h-1zM118.0 485.0h1v1h-1zM118.0 491.0h1v1h-1zM115.0 488.0h1v1h-1zM121.0 488.0h1v1h-1z" fill="#eeee00"/>
<path d="M135.0 468.0h5v1h-5zM135.0 472.0h5v1h-5zM135.0 469.0h1v3h-1zM139.0 469.0h1v3h-1zM137.0 467.0h1v1h-1zM137.0 473.0h1v1h-1zM134.0 470.0h1v1h-1zM140.0 470.0h1v1h-1z" fill="#eeee00"/>
<path d="M154.0 450.0h5v1h-5zM154.0 454.0h5v1h-5zM154.0 451.0h1v3h-1zM158.0 451.0h1v3h-1zM156.0 449.0h1v1h-1zM156.0 455.0h1v1h-1zM153.0 452.0h1v1h-1zM159.0 452.0h1v1h-1z" fill="#eeee00"/>
<path d="M173.0 432.0h5v1h-5zM173.0 436.0h5v1h-5zM173.0 433.0h1v3h-1zM177.0 433.0h1v3h-1zM175.0 431.0h1v1h-1zM175.0 437.0h1v1h-1zM172.0 434.0h1v1h-1zM178.0 434.0h1v1h-1z" fill="#eeee00"/>
<path d="M192.0 423.0h5v1h-5zM192.0 427.0h5v1h-5zM192.0 424.0h1v3h-1zM196.0 424.0h1v3h-1zM194.0 422.0h1v1h-1zM194.0 428.0h1v1h-1zM191.0 425.0h1v1h-1zM197.0 425.0h1v1h-1z" fill="#eeee00"/>
<path d="M211.0 408.0h5v1h-5zM211.0 412.0h5v1h-5zM211.0 409.0h1v3h-1zM215.0 409.0h1v3h-1zM213.0 407.0h1v1h-1zM213.0 413.0h1v1h-1zM210.0 410.0h1v1h-1zM216.0 410.0h1v1h-1z" fill="#eeee00"/>
<path d="M230.0 395.0h5v1h-5zM230.0 399.0h5v1h-5zM230.0 396.0h1v3h-1zM234.0 396.0h1v3h-1zM232.0 394.0h1v1h-1zM232.0 400.0h1v1h-1zM229.0 397.0h1v1h-1zM235.0 397.0h1v1h-1z" fill="#eeee00"/>
<path d="M250.0 374.0h5v1h-5zM250.0 378.0h5v1h-5zM250.0 375.0h1v3h-1zM254.0 375.0h1v3h-1zM252.0 373.0h1v1h-1zM252.0 379.0h1v1h-1zM249.0 376.0h1v1h-1zM255.0 376.0h1v1h-1z" fill="#eeee00"/>
<path d="M269.0 359.0h5v1h-5zM269.0 363.0h5v1h-5zM269.0 360.0h1v3h-1zM273.0 360.0h1v3h-1zM271.0 358.0h1v1h-1zM271.0 364.0h1v1h-1zM268.0 361.0h1v1h-1zM274.0 361.0h1v1h-1z" fill="#eeee00"/>
<path d="M288.0 338.0h5v1h-5zM288.0 342.0h5v1h-5zM288.0 339.0h1v3h-1zM292.0 339.0h1v3h-1zM290.0 337.0h1v1h-1zM290.0 343.0h1v1h-1zM287.0 340.0h1v1h-1zM293.0 340.0h1v1h-1z" fill="#eeee00"/>
<path d="M307.0 323.0h5v1h-5zM307.0 327.0h5v1h-5zM307.0 324.0h1v3h-1zM311.0 324.0h1v3h-1zM309.0 322.0h1v1h-1zM309.0 328.0h1v1h-1zM306.0 325.0h1v1h-1zM312.0 325.0h1v1h-1z" fill="#eeee00"/>
<path d="M326.0 315.0h5v1h-5zM326.0 319.0h5v1h-5zM326.0 316.0h1v3h-1zM330.0 316.0h1v3h-1zM328.0 314.0h1v1h-1zM328.0 320.0h1v1h-1zM325.0 317.0h1v1h-1zM331.0 317.0h1v1h-1z" fill="#eeee00"/>
<path d="M345.0 308.0h5v1h-5zM345.0 312.0h5v1h-5zM345.0 309.0h1v3h-1zM349.0 309.0h1v3h-1zM347.0 307.0h1v1h-1zM347.0 313.0h1v1h-1zM344.0 310.0h1v1h-1zM350.0 310.0h1v1h-1z" fill="#eeee00"/>
<path d="M364.0 298.0h5v1h-5zM364.0 302.0h5v1h-5zM364.0 299.0h1v3h-1zM368.0 299.0h1v3h-1zM366.0 297.0h1v1h-1zM366.0 303.0h1v1h-1zM363.0 300.0h1v1h-1zM369.0 300.0h1v1h-1z" fill="#eeee00"/>
<path d="M384.0 285.0h5v1h-5zM384.0 289.0h5v1h-5zM384.0 286.0h1v3h-1zM388.0 286.0h1v3h-1zM386.0 284.0h1v1h-1zM386.0 290.0h1v1h-1zM383.0 287.0h1v1h-1zM389.0 287.0h1v1h-1z" fill="#eeee00"/>
<path d="M403.0 271.0h5v1h-5zM403.0 275.0h5v1h-5zM403.0 272.0h1v3h-1zM407.0 272.0h1v3h-1zM405.0 270.0h1v1h-1zM405.0 276.0h1v1h-1zM402.0 273.0h1v1h-1zM408.0 273.0h1v1h-1z" fill="#eeee00"/>
<path d="M422.0 258.0h5v1h-5zM422.0 262.0h5v1h-5zM422.0 259.0h1v3h-1zM426.0 259.0h1v3h-1zM424.0 257.0h1v1h-1zM424.0 263.0h1v1h-1zM421.0 260.0h1v1h-1zM427.0 260.0h1v1h-1z" fill="#eeee00"/>
<path d="M441.0 248.0h5v1h-5zM441.0 252.0h5v1h-5zM441.0 249.0h1v3h-1zM445.0 249.0h1v3h-1zM443.0 247.0h1v1h-1zM443.0 253.0h1v1h-1zM440.0 250.0h1v1h-1zM446.0 250.0h1v1h-1z" fill="#eeee00"/>
<path d="M460.0 238.0h5v1h-5zM460.0 242.0h5v1h-5zM460.0 239.0h1v3h-1zM464.0 239.0h1v3h-1zM462.0 237.0h1v1h-1zM462.0 243.0h1v1h-1zM459.0 240.0h1v1h-1zM465.0 240.0h1v1h-1z" fill="#eeee00"/>
<path d="M479.0 217.0h5v1h-5zM479.0 221.0h5v1h-5zM479.0 218.0h1v3h-1zM483.0 218.0h1v3h-1zM481.0 216.0h1v1h-1zM481.0 222.0h1v1h-1zM478.0 219.0h1v1h-1zM484.0 219.0h1v1h-1z" fill="#eeee00"/>
<path d="M498.0 198.0h5v1h-5zM498.0 202.0h5v1h-5zM498.0 199.0h1v3h-1zM502.0 199.0h1v3h-1zM500.0 197.0h1v1h-1zM500.0 203.0h1v1h-1zM497.0 200.0h1v1h-1zM503.0 200.0h1v1h-1z" fill="#eeee00"/>
<path d="M518.0 164.0h5v1h-5zM518.0 168.0h5v1h-5zM518.0 165.0h1v3h-1zM522.0 165.0h1v3h-1zM520.0 163.0h1v1h-1zM520.0 169.0h1v1h-1zM517.0 166.0h1v1h-1zM523.0 166.0h1v1h-1z" fill="#eeee00"/>
<path d="M537.0 158.0h5v1h-5zM537.0 162.0h5v1h-5zM537.0 159.0h1v3h-1zM541.0 159.0h1v3h-1zM539.0 157.0h1v1h-1zM539.0 163.0h1v1h-1zM536.0 160.0h1v1h-1zM542.0 160.0h1v1h-1z" fill="#eeee00"/>
<path d="M556.0 136.0h5v1h-5zM556.0 140.0h5v1h-5zM556.0 137.0h1v3h-1zM560.0 137.0h1v3h-1zM558.0 135.0h1v1h-1zM558.0 141.0h1v1h-1zM555.0 138.0h1v1h-1zM561.0 138.0h1v1h-1z" fill="#eeee00"/>
<path d="M575.0 129.0h5v1h-5zM575.0 133.0h5v1h-5zM575.0 130.0h1v3h-1zM579.0 130.0h1v3h-1zM577.0 128.0h1v1h-1zM577.0 134.0h1v1h-1zM574.0 131.0h1v1h-1zM580.0 131.0h1v1h-1z" fill="#eeee00"/>
<path d="M594.0 121.0h5v1h-5zM594.0 125.0h5v1h-5zM594.0 122.0h1v3h-1zM598.0 122.0h1v3h-1zM596.0 120.0h1v1h-1zM596.0 126.0h1v1h-1zM593.0 123.0h1v1h-1zM599.0 123.0h1v1h-1z" fill="#eeee00"/>
<path d="M613.0 104.0h5v1h-5zM613.0 108.0h5v1h-5zM613.0 105.0h1v3h-1zM617.0 105.0h1v3h-1zM615.0 103.0h1v1h-1zM615.0 109.0h1v1h-1zM612.0 106.0h1v1h-1zM618.0 106.0h1v1h-1z" fill="#eeee00"/>
<path d="M632.0 90.0h5v1h-5zM632.0 94.0h5v1h-5zM632.0 91.0h1v3h-1zM636.0 91.0h1v3h-1zM634.0 89.0h1v1h-1zM634.0 95.0h1v1h-1zM631.0 92.0h1v1h-1zM637.0 92.0h1v1h-1z" fill="#eeee00"/>
<path d="M652.0 62.0h5v1h-5zM652.0 66.0h5v1h-5zM652.0 63.0h1v3h-1zM656.0 63.0h1v3h-1zM654.0 61.0h1v1h-1zM654.0 67.0h1v1h-1zM651.0 64.0h1v1h-1zM657.0 64.0h1v1h-1z" fill="#eeee00"/>
</g>
<g filter="url(#idf)"><text transform="translate(169,144) scale(0.8197,1)" y="0"><tspan x="0.00 7.32 14.64">USA</tspan><tspan x="29.28 36.60">::</tspan><tspan x="51.24 58.56 65.88 73.20 80.52">Texas</tspan><tspan x="95.16 102.48">::</tspan><tspan x="117.12 124.44 131.76 139.08 146.40 153.72 161.04">Lubbock</tspan></text></g>
<g shape-rendering="crispEdges">
<line x1="313" y1="139.5" x2="342" y2="139.5" stroke="#2020c0" stroke-width="1"/>
<polyline fill="none" stroke="#2020c0" stroke-width="1" stroke-linejoin="round" points="98.6,512.5 117.8,498.0 136.9,484.0 156.1,465.0 175.2,445.0 194.4,424.5 213.5,410.0 232.6,391.5 251.8,378.6 270.9,366.0 290.1,353.0 309.2,338.3 328.4,316.7 347.5,303.5 366.6,274.7 385.8,260.0 404.9,246.7 424.1,230.0 443.2,217.5 462.4,204.7 481.5,194.0 500.6,176.7 519.8,161.7 538.9,151.0 558.1,136.7 577.2,126.7 596.4,120.5 615.5,112.0 634.6,97.0 653.8,64.0"/>
<path d="M327.5 135.5L331.5 141.5H323.5Z" stroke="#2020c0" stroke-width="1" fill="none"/>
<path d="M98.5 508.5L102.5 514.5H94.5Z" stroke="#2020c0" stroke-width="1" fill="none"/>
<path d="M118.5 494.5L122.5 500.5H114.5Z" stroke="#2020c0" stroke-width="1" fill="none"/>
<path d="M137.5 480.5L141.5 486.5H133.5Z" stroke="#2020c0" stroke-width="1" fill="none"/>
<path d="M156.5 461.5L160.5 467.5H152.5Z" stroke="#2020c0" stroke-width="1" fill="none"/>
<path d="M175.5 441.5L179.5 447.5H171.5Z" stroke="#2020c0" stroke-width="1" fill="none"/>
<path d="M194.5 420.5L198.5 426.5H190.5Z" stroke="#2020c0" stroke-width="1" fill="none"/>
<path d="M213.5 406.5L217.5 412.5H209.5Z" stroke="#2020c0" stroke-width="1" fill="none"/>
<path d="M232.5 387.5L236.5 393.5H228.5Z" stroke="#2020c0" stroke-width="1" fill="none"/>
<path d="M252.5 374.5L256.5 380.5H248.5Z" stroke="#2020c0" stroke-width="1" fill="none"/>
<path d="M271.5 362.5L275.5 368.5H267.5Z" stroke="#2020c0" stroke-width="1" fill="none"/>
<path d="M290.5 349.5L294.5 355.5H286.5Z" stroke="#2020c0" stroke-width="1" fill="none"/>
<path d="M309.5 334.5L313.5 340.5H305.5Z" stroke="#2020c0" stroke-width="1" fill="none"/>
<path d="M328.5 312.5L332.5 318.5H324.5Z" stroke="#2020c0" stroke-width="1" fill="none"/>
<path d="M347.5 299.5L351.5 305.5H343.5Z" stroke="#2020c0" stroke-width="1" fill="none"/>
<path d="M366.5 270.5L370.5 276.5H362.5Z" stroke="#2020c0" stroke-width="1" fill="none"/>
<path d="M386.5 256.5L390.5 262.5H382.5Z" stroke="#2020c0" stroke-width="1" fill="none"/>
<path d="M405.5 242.5L409.5 248.5H401.5Z" stroke="#2020c0" stroke-width="1" fill="none"/>
<path d="M424.5 226.5L428.5 232.5H420.5Z" stroke="#2020c0" stroke-width="1" fill="none"/>
<path d="M443.5 213.5L447.5 219.5H439.5Z" stroke="#2020c0" stroke-width="1" fill="none"/>
<path d="M462.5 200.5L466.5 206.5H458.5Z" stroke="#2020c0" stroke-width="1" fill="none"/>
<path d="M481.5 190.5L485.5 196.5H477.5Z" stroke="#2020c0" stroke-width="1" fill="none"/>
<path d="M500.5 172.5L504.5 178.5H496.5Z" stroke="#2020c0" stroke-width="1" fill="none"/>
<path d="M520.5 157.5L524.5 163.5H516.5Z" stroke="#2020c0" stroke-width="1" fill="none"/>
<path d="M539.5 147.5L543.5 153.5H535.5Z" stroke="#2020c0" stroke-width="1" fill="none"/>
<path d="M558.5 132.5L562.5 138.5H554.5Z" stroke="#2020c0" stroke-width="1" fill="none"/>
<path d="M577.5 122.5L581.5 128.5H573.5Z" stroke="#2020c0" stroke-width="1" fill="none"/>
<path d="M596.5 116.5L600.5 122.5H592.5Z" stroke="#2020c0" stroke-width="1" fill="none"/>
<path d="M615.5 108.5L619.5 114.5H611.5Z" stroke="#2020c0" stroke-width="1" fill="none"/>
<path d="M634.5 93.5L638.5 99.5H630.5Z" stroke="#2020c0" stroke-width="1" fill="none"/>
<path d="M654.5 60.5L658.5 66.5H650.5Z" stroke="#2020c0" stroke-width="1" fill="none"/>
</g>
<g filter="url(#idf)"><text transform="translate(85,157) scale(0.8197,1)" y="0"><tspan x="0.00 7.32 14.64">USA</tspan><tspan x="29.28 36.60">::</tspan><tspan x="51.24 58.56 65.88 73.20 80.52">Texas</tspan><tspan x="95.16 102.48">::</tspan><tspan x="117.12 124.44 131.76 139.08 146.40 153.72 161.04 168.36 175.68 183.00 190.32 197.64 204.96">Bryan-College</tspan><tspan x="219.60 226.92 234.24 241.56 248.88 256.20 263.52">Station</tspan></text></g>
<g shape-rendering="crispEdges">
<line x1="313" y1="152.5" x2="342" y2="152.5" stroke="#ffc020" stroke-width="1"/>
<polyline fill="none" stroke="#ffc020" stroke-width="1" stroke-linejoin="round" points="98.6,506.0 117.8,492.0 136.9,478.0 156.1,461.0 175.2,443.8 194.4,430.7 213.5,411.4 232.6,392.0 251.8,381.2 270.9,368.2 290.1,354.0 309.2,342.0 328.4,333.8 347.5,315.0 366.6,307.0 385.8,300.5 404.9,275.0 424.1,262.0 443.2,250.8 462.4,250.5 481.5,236.7 500.6,230.0 519.8,223.3 538.9,196.0 558.1,186.8 577.2,174.5 596.4,151.2 615.5,122.0 634.6,110.6 653.8,78.5"/>
<path d="M327.5 148.0L332.0 155.0H323.0Z" fill="#ffc020"/>
<path d="M98.5 502.0L103.0 509.0H94.0Z" fill="#ffc020"/>
<path d="M118.5 488.0L123.0 495.0H114.0Z" fill="#ffc020"/>
<path d="M137.5 474.0L142.0 481.0H133.0Z" fill="#ffc020"/>
<path d="M156.5 457.0L161.0 464.0H152.0Z" fill="#ffc020"/>
<path d="M175.5 440.0L180.0 447.0H171.0Z" fill="#ffc020"/>
<path d="M194.5 426.0L199.0 433.0H190.0Z" fill="#ffc020"/>
<path d="M213.5 407.0L218.0 414.0H209.0Z" fill="#ffc020"/>
<path d="M232.5 388.0L237.0 395.0H228.0Z" fill="#ffc020"/>
<path d="M252.5 377.0L257.0 384.0H248.0Z" fill="#ffc020"/>
<path d="M271.5 364.0L276.0 371.0H267.0Z" fill="#ffc020"/>
<path d="M290.5 350.0L295.0 357.0H286.0Z" fill="#ffc020"/>
<path d="M309.5 338.0L314.0 345.0H305.0Z" fill="#ffc020"/>
<path d="M328.5 330.0L333.0 337.0H324.0Z" fill="#ffc020"/>
<path d="M347.5 311.0L352.0 318.0H343.0Z" fill="#ffc020"/>
<path d="M366.5 303.0L371.0 310.0H362.0Z" fill="#ffc020"/>
<path d="M386.5 296.0L391.0 303.0H382.0Z" fill="#ffc020"/>
<path d="M405.5 271.0L410.0 278.0H401.0Z" fill="#ffc020"/>
<path d="M424.5 258.0L429.0 265.0H420.0Z" fill="#ffc020"/>
<path d="M443.5 247.0L448.0 254.0H439.0Z" fill="#ffc020"/>
<path d="M462.5 246.0L467.0 253.0H458.0Z" fill="#ffc020"/>
<path d="M481.5 232.0L486.0 239.0H477.0Z" fill="#ffc020"/>
<path d="M500.5 226.0L505.0 233.0H496.0Z" fill="#ffc020"/>
<path d="M520.5 219.0L525.0 226.0H516.0Z" fill="#ffc020"/>
<path d="M539.5 192.0L544.0 199.0H535.0Z" fill="#ffc020"/>
<path d="M558.5 183.0L563.0 190.0H554.0Z" fill="#ffc020"/>
<path d="M577.5 170.0L582.0 177.0H573.0Z" fill="#ffc020"/>
<path d="M596.5 147.0L601.0 154.0H592.0Z" fill="#ffc020"/>
<path d="M615.5 118.0L620.0 125.0H611.0Z" fill="#ffc020"/>
<path d="M634.5 106.0L639.0 113.0H630.0Z" fill="#ffc020"/>
<path d="M654.5 74.0L659.0 81.0H650.0Z" fill="#ffc020"/>
</g>
<g filter="url(#idf)"><text transform="translate(205,170) scale(0.8197,1)" y="0"><tspan x="0.00 7.32 14.64 21.96">Asia</tspan><tspan x="36.60 43.92">::</tspan><tspan x="58.56 65.88 73.20 80.52 87.84 95.16 102.48 109.80 117.12">Indonesia</tspan></text></g>
<g shape-rendering="crispEdges">
<line x1="313" y1="165.5" x2="342" y2="165.5" stroke="#008040" stroke-width="1"/>
<polyline fill="none" stroke="#008040" stroke-width="1" stroke-linejoin="round" points="98.6,510.0 117.8,498.0 136.9,491.0 156.1,474.0 175.2,463.6 194.4,454.2 213.5,448.0 232.6,442.7 251.8,425.3 270.9,406.2 290.1,397.4 309.2,384.0 328.4,368.0 347.5,358.8 366.6,345.0 385.8,333.0 404.9,320.0 424.1,306.7 443.2,291.7 462.4,279.0 481.5,262.0 500.6,250.0 519.8,244.0 538.9,222.5 558.1,210.0 577.2,203.8 596.4,195.7 615.5,160.0 634.6,100.5 653.8,79.8"/>
<path d="M327.5 169.5L331.5 163.5H323.5Z" stroke="#008040" stroke-width="1" fill="none"/>
<path d="M98.5 514.5L102.5 508.5H94.5Z" stroke="#008040" stroke-width="1" fill="none"/>
<path d="M118.5 502.5L122.5 496.5H114.5Z" stroke="#008040" stroke-width="1" fill="none"/>
<path d="M137.5 495.5L141.5 489.5H133.5Z" stroke="#008040" stroke-width="1" fill="none"/>
<path d="M156.5 478.5L160.5 472.5H152.5Z" stroke="#008040" stroke-width="1" fill="none"/>
<path d="M175.5 467.5L179.5 461.5H171.5Z" stroke="#008040" stroke-width="1" fill="none"/>
<path d="M194.5 458.5L198.5 452.5H190.5Z" stroke="#008040" stroke-width="1" fill="none"/>
<path d="M213.5 452.5L217.5 446.5H209.5Z" stroke="#008040" stroke-width="1" fill="none"/>
<path d="M232.5 446.5L236.5 440.5H228.5Z" stroke="#008040" stroke-width="1" fill="none"/>
<path d="M252.5 429.5L256.5 423.5H248.5Z" stroke="#008040" stroke-width="1" fill="none"/>
<path d="M271.5 410.5L275.5 404.5H267.5Z" stroke="#008040" stroke-width="1" fill="none"/>
<path d="M290.5 401.5L294.5 395.5H286.5Z" stroke="#008040" stroke-width="1" fill="none"/>
<path d="M309.5 388.5L313.5 382.5H305.5Z" stroke="#008040" stroke-width="1" fill="none"/>
<path d="M328.5 372.5L332.5 366.5H324.5Z" stroke="#008040" stroke-width="1" fill="none"/>
<path d="M347.5 363.5L351.5 357.5H343.5Z" stroke="#008040" stroke-width="1" fill="none"/>
<path d="M366.5 349.5L370.5 343.5H362.5Z" stroke="#008040" stroke-width="1" fill="none"/>
<path d="M386.5 337.5L390.5 331.5H382.5Z" stroke="#008040" stroke-width="1" fill="none"/>
<path d="M405.5 324.5L409.5 318.5H401.5Z" stroke="#008040" stroke-width="1" fill="none"/>
<path d="M424.5 310.5L428.5 304.5H420.5Z" stroke="#008040" stroke-width="1" fill="none"/>
<path d="M443.5 295.5L447.5 289.5H439.5Z" stroke="#008040" stroke-width="1" fill="none"/>
<path d="M462.5 283.5L466.5 277.5H458.5Z" stroke="#008040" stroke-width="1" fill="none"/>
<path d="M481.5 266.5L485.5 260.5H477.5Z" stroke="#008040" stroke-width="1" fill="none"/>
<path d="M500.5 254.5L504.5 248.5H496.5Z" stroke="#008040" stroke-width="1" fill="none"/>
<path d="M520.5 248.5L524.5 242.5H516.5Z" stroke="#008040" stroke-width="1" fill="none"/>
<path d="M539.5 226.5L543.5 220.5H535.5Z" stroke="#008040" stroke-width="1" fill="none"/>
<path d="M558.5 214.5L562.5 208.5H554.5Z" stroke="#008040" stroke-width="1" fill="none"/>
<path d="M577.5 208.5L581.5 202.5H573.5Z" stroke="#008040" stroke-width="1" fill="none"/>
<path d="M596.5 199.5L600.5 193.5H592.5Z" stroke="#008040" stroke-width="1" fill="none"/>
<path d="M615.5 164.5L619.5 158.5H611.5Z" stroke="#008040" stroke-width="1" fill="none"/>
<path d="M634.5 104.5L638.5 98.5H630.5Z" stroke="#008040" stroke-width="1" fill="none"/>
<path d="M654.5 84.5L658.5 78.5H650.5Z" stroke="#008040" stroke-width="1" fill="none"/>
</g>
<g filter="url(#idf)"><text transform="translate(157,183) scale(0.8197,1)" y="0"><tspan x="0.00 7.32 14.64">USA</tspan><tspan x="29.28 36.60">::</tspan><tspan x="51.24 58.56 65.88 73.20 80.52 87.84 95.16 102.48">Arkansas</tspan><tspan x="117.12 124.44">::</tspan><tspan x="139.08 146.40 153.72 161.04 168.36 175.68">Conway</tspan></text></g>
<g shape-rendering="crispEdges">
<line x1="313" y1="178.5" x2="342" y2="178.5" stroke="#a080ff" stroke-width="1"/>
<polyline fill="none" stroke="#a080ff" stroke-width="1" stroke-linejoin="round" points="98.6,502.8 117.8,484.8 136.9,474.9 156.1,460.0 175.2,450.5 194.4,434.0 213.5,415.0 232.6,395.3 251.8,385.4 270.9,371.4 290.1,353.0 309.2,343.0 328.4,327.0 347.5,317.5 366.6,302.0 385.8,286.7 404.9,273.7 424.1,264.7 443.2,255.8 462.4,249.5 481.5,240.8 500.6,232.5 519.8,220.0 538.9,186.0 558.1,160.0 577.2,152.5 596.4,145.0 615.5,128.8 634.6,114.5 653.8,82.0"/>
<path d="M327.5 183.0L332.0 176.0H323.0Z" fill="#a080ff"/>
<path d="M98.5 508.0L103.0 501.0H94.0Z" fill="#a080ff"/>
<path d="M118.5 490.0L123.0 483.0H114.0Z" fill="#a080ff"/>
<path d="M137.5 480.0L142.0 473.0H133.0Z" fill="#a080ff"/>
<path d="M156.5 465.0L161.0 458.0H152.0Z" fill="#a080ff"/>
<path d="M175.5 455.0L180.0 448.0H171.0Z" fill="#a080ff"/>
<path d="M194.5 439.0L199.0 432.0H190.0Z" fill="#a080ff"/>
<path d="M213.5 420.0L218.0 413.0H209.0Z" fill="#a080ff"/>
<path d="M232.5 400.0L237.0 393.0H228.0Z" fill="#a080ff"/>
<path d="M252.5 390.0L257.0 383.0H248.0Z" fill="#a080ff"/>
<path d="M271.5 376.0L276.0 369.0H267.0Z" fill="#a080ff"/>
<path d="M290.5 358.0L295.0 351.0H286.0Z" fill="#a080ff"/>
<path d="M309.5 348.0L314.0 341.0H305.0Z" fill="#a080ff"/>
<path d="M328.5 332.0L333.0 325.0H324.0Z" fill="#a080ff"/>
<path d="M347.5 322.0L352.0 315.0H343.0Z" fill="#a080ff"/>
<path d="M366.5 307.0L371.0 300.0H362.0Z" fill="#a080ff"/>
<path d="M386.5 291.0L391.0 284.0H382.0Z" fill="#a080ff"/>
<path d="M405.5 278.0L410.0 271.0H401.0Z" fill="#a080ff"/>
<path d="M424.5 269.0L429.0 262.0H420.0Z" fill="#a080ff"/>
<path d="M443.5 261.0L448.0 254.0H439.0Z" fill="#a080ff"/>
<path d="M462.5 254.0L467.0 247.0H458.0Z" fill="#a080ff"/>
<path d="M481.5 246.0L486.0 239.0H477.0Z" fill="#a080ff"/>
<path d="M500.5 237.0L505.0 230.0H496.0Z" fill="#a080ff"/>
<path d="M520.5 225.0L525.0 218.0H516.0Z" fill="#a080ff"/>
<path d="M539.5 191.0L544.0 184.0H535.0Z" fill="#a080ff"/>
<path d="M558.5 165.0L563.0 158.0H554.0Z" fill="#a080ff"/>
<path d="M577.5 157.0L582.0 150.0H573.0Z" fill="#a080ff"/>
<path d="M596.5 150.0L601.0 143.0H592.0Z" fill="#a080ff"/>
<path d="M615.5 134.0L620.0 127.0H611.0Z" fill="#a080ff"/>
<path d="M634.5 119.0L639.0 112.0H630.0Z" fill="#a080ff"/>
<path d="M654.5 87.0L659.0 80.0H650.0Z" fill="#a080ff"/>
</g>
<g filter="url(#idf)"><text transform="translate(139,196) scale(0.8197,1)" y="0"><tspan x="0.00 7.32 14.64">USA</tspan><tspan x="29.28 36.60">::</tspan><tspan x="51.24 58.56 65.88 73.20">Utah</tspan><tspan x="87.84 95.16">::</tspan><tspan x="109.80 117.12 124.44 131.76 139.08 146.40 153.72 161.04">American</tspan><tspan x="175.68 183.00 190.32 197.64">Fork</tspan></text></g>
<g shape-rendering="crispEdges">
<line x1="313" y1="191.5" x2="342" y2="191.5" stroke="#804000" stroke-width="1"/>
<polyline fill="none" stroke="#804000" stroke-width="1" stroke-linejoin="round" points="98.6,516.0 117.8,503.2 136.9,491.0 156.1,474.0 175.2,457.0 194.4,444.0 213.5,431.0 232.6,417.0 251.8,403.0 270.9,377.0 290.1,366.0 309.2,355.0 328.4,317.0 347.5,302.5 366.6,295.5 385.8,285.8 404.9,269.5 424.1,258.0 443.2,244.5 462.4,234.0 481.5,222.5 500.6,212.5 519.8,204.7 538.9,196.0 558.1,186.5 577.2,174.5 596.4,152.5 615.5,137.5 634.6,123.6 653.8,93.4"/>
<path d="M327.5 188.5L330.5 191.5L327.5 194.5L324.5 191.5Z" stroke="#804000" stroke-width="1" fill="none"/>
<path d="M98.5 513.5L101.5 516.5L98.5 519.5L95.5 516.5Z" stroke="#804000" stroke-width="1" fill="none"/>
<path d="M118.5 500.5L121.5 503.5L118.5 506.5L115.5 503.5Z" stroke="#804000" stroke-width="1" fill="none"/>
<path d="M137.5 488.5L140.5 491.5L137.5 494.5L134.5 491.5Z" stroke="#804000" stroke-width="1" fill="none"/>
<path d="M156.5 471.5L159.5 474.5L156.5 477.5L153.5 474.5Z" stroke="#804000" stroke-width="1" fill="none"/>
<path d="M175.5 454.5L178.5 457.5L175.5 460.5L172.5 457.5Z" stroke="#804000" stroke-width="1" fill="none"/>
<path d="M194.5 441.5L197.5 444.5L194.5 447.5L191.5 444.5Z" stroke="#804000" stroke-width="1" fill="none"/>
<path d="M213.5 428.5L216.5 431.5L213.5 434.5L210.5 431.5Z" stroke="#804000" stroke-width="1" fill="none"/>
<path d="M232.5 414.5L235.5 417.5L232.5 420.5L229.5 417.5Z" stroke="#804000" stroke-width="1" fill="none"/>
<path d="M252.5 400.5L255.5 403.5L252.5 406.5L249.5 403.5Z" stroke="#804000" stroke-width="1" fill="none"/>
<path d="M271.5 374.5L274.5 377.5L271.5 380.5L268.5 377.5Z" stroke="#804000" stroke-width="1" fill="none"/>
<path d="M290.5 363.5L293.5 366.5L290.5 369.5L287.5 366.5Z" stroke="#804000" stroke-width="1" fill="none"/>
<path d="M309.5 352.5L312.5 355.5L309.5 358.5L306.5 355.5Z" stroke="#804000" stroke-width="1" fill="none"/>
<path d="M328.5 314.5L331.5 317.5L328.5 320.5L325.5 317.5Z" stroke="#804000" stroke-width="1" fill="none"/>
<path d="M347.5 299.5L350.5 302.5L347.5 305.5L344.5 302.5Z" stroke="#804000" stroke-width="1" fill="none"/>
<path d="M366.5 292.5L369.5 295.5L366.5 298.5L363.5 295.5Z" stroke="#804000" stroke-width="1" fill="none"/>
<path d="M386.5 283.5L389.5 286.5L386.5 289.5L383.5 286.5Z" stroke="#804000" stroke-width="1" fill="none"/>
<path d="M405.5 266.5L408.5 269.5L405.5 272.5L402.5 269.5Z" stroke="#804000" stroke-width="1" fill="none"/>
<path d="M424.5 255.5L427.5 258.5L424.5 261.5L421.5 258.5Z" stroke="#804000" stroke-width="1" fill="none"/>
<path d="M443.5 241.5L446.5 244.5L443.5 247.5L440.5 244.5Z" stroke="#804000" stroke-width="1" fill="none"/>
<path d="M462.5 231.5L465.5 234.5L462.5 237.5L459.5 234.5Z" stroke="#804000" stroke-width="1" fill="none"/>
<path d="M481.5 219.5L484.5 222.5L481.5 225.5L478.5 222.5Z" stroke="#804000" stroke-width="1" fill="none"/>
<path d="M500.5 209.5L503.5 212.5L500.5 215.5L497.5 212.5Z" stroke="#804000" stroke-width="1" fill="none"/>
<path d="M520.5 201.5L523.5 204.5L520.5 207.5L517.5 204.5Z" stroke="#804000" stroke-width="1" fill="none"/>
<path d="M539.5 193.5L542.5 196.5L539.5 199.5L536.5 196.5Z" stroke="#804000" stroke-width="1" fill="none"/>
<path d="M558.5 183.5L561.5 186.5L558.5 189.5L555.5 186.5Z" stroke="#804000" stroke-width="1" fill="none"/>
<path d="M577.5 171.5L580.5 174.5L577.5 177.5L574.5 174.5Z" stroke="#804000" stroke-width="1" fill="none"/>
<path d="M596.5 149.5L599.5 152.5L596.5 155.5L593.5 152.5Z" stroke="#804000" stroke-width="1" fill="none"/>
<path d="M615.5 134.5L618.5 137.5L615.5 140.5L612.5 137.5Z" stroke="#804000" stroke-width="1" fill="none"/>
<path d="M634.5 120.5L637.5 123.5L634.5 126.5L631.5 123.5Z" stroke="#804000" stroke-width="1" fill="none"/>
<path d="M654.5 90.5L657.5 93.5L654.5 96.5L651.5 93.5Z" stroke="#804000" stroke-width="1" fill="none"/>
</g>
<g filter="url(#idf)"><text transform="translate(85,209) scale(0.8197,1)" y="0"><tspan x="0.00 7.32 14.64">USA</tspan><tspan x="29.28 36.60">::</tspan><tspan x="51.24 58.56 65.88 73.20 80.52 87.84 95.16 102.48">Illinois</tspan><tspan x="117.12 124.44">::</tspan><tspan x="139.08 146.40 153.72 161.04 168.36 175.68 183.00 190.32 197.64 204.96 212.28 219.60 226.92 234.24 241.56 248.88 256.20 263.52">Bloomington-Normal</tspan></text></g>
<g shape-rendering="crispEdges">
<line x1="313" y1="204.5" x2="342" y2="204.5" stroke="#ff80ff" stroke-width="1"/>
<polyline fill="none" stroke="#ff80ff" stroke-width="1" stroke-linejoin="round" points="98.6,507.0 117.8,494.0 136.9,478.5 156.1,465.0 175.2,452.6 194.4,440.0 213.5,427.5 232.6,410.8 251.8,398.4 270.9,386.0 290.1,370.8 309.2,361.5 328.4,340.0 347.5,328.0 366.6,315.0 385.8,299.7 404.9,287.5 424.1,279.0 443.2,267.5 462.4,255.0 481.5,249.0 500.6,241.3 519.8,227.0 538.9,210.0 558.1,202.0 577.2,194.4 596.4,170.5 615.5,152.2 634.6,140.3 653.8,100.0"/>
<path d="M327.5 200.5L331.5 204.5L327.5 208.5L323.5 204.5Z" fill="#ff80ff"/>
<path d="M98.5 503.5L102.5 507.5L98.5 511.5L94.5 507.5Z" fill="#ff80ff"/>
<path d="M118.5 490.5L122.5 494.5L118.5 498.5L114.5 494.5Z" fill="#ff80ff"/>
<path d="M137.5 474.5L141.5 478.5L137.5 482.5L133.5 478.5Z" fill="#ff80ff"/>
<path d="M156.5 461.5L160.5 465.5L156.5 469.5L152.5 465.5Z" fill="#ff80ff"/>
<path d="M175.5 448.5L179.5 452.5L175.5 456.5L171.5 452.5Z" fill="#ff80ff"/>
<path d="M194.5 436.5L198.5 440.5L194.5 444.5L190.5 440.5Z" fill="#ff80ff"/>
<path d="M213.5 423.5L217.5 427.5L213.5 431.5L209.5 427.5Z" fill="#ff80ff"/>
<path d="M232.5 407.5L236.5 411.5L232.5 415.5L228.5 411.5Z" fill="#ff80ff"/>
<path d="M252.5 394.5L256.5 398.5L252.5 402.5L248.5 398.5Z" fill="#ff80ff"/>
<path d="M271.5 382.5L275.5 386.5L271.5 390.5L267.5 386.5Z" fill="#ff80ff"/>
<path d="M290.5 367.5L294.5 371.5L290.5 375.5L286.5 371.5Z" fill="#ff80ff"/>
<path d="M309.5 357.5L313.5 361.5L309.5 365.5L305.5 361.5Z" fill="#ff80ff"/>
<path d="M328.5 336.5L332.5 340.5L328.5 344.5L324.5 340.5Z" fill="#ff80ff"/>
<path d="M347.5 324.5L351.5 328.5L347.5 332.5L343.5 328.5Z" fill="#ff80ff"/>
<path d="M366.5 311.5L370.5 315.5L366.5 319.5L362.5 315.5Z" fill="#ff80ff"/>
<path d="M386.5 295.5L390.5 299.5L386.5 303.5L382.5 299.5Z" fill="#ff80ff"/>
<path d="M405.5 283.5L409.5 287.5L405.5 291.5L401.5 287.5Z" fill="#ff80ff"/>
<path d="M424.5 275.5L428.5 279.5L424.5 283.5L420.5 279.5Z" fill="#ff80ff"/>
<path d="M443.5 263.5L447.5 267.5L443.5 271.5L439.5 267.5Z" fill="#ff80ff"/>
<path d="M462.5 251.5L466.5 255.5L462.5 259.5L458.5 255.5Z" fill="#ff80ff"/>
<path d="M481.5 245.5L485.5 249.5L481.5 253.5L477.5 249.5Z" fill="#ff80ff"/>
<path d="M500.5 237.5L504.5 241.5L500.5 245.5L496.5 241.5Z" fill="#ff80ff"/>
<path d="M520.5 223.5L524.5 227.5L520.5 231.5L516.5 227.5Z" fill="#ff80ff"/>
<path d="M539.5 206.5L543.5 210.5L539.5 214.5L535.5 210.5Z" fill="#ff80ff"/>
<path d="M558.5 198.5L562.5 202.5L558.5 206.5L554.5 202.5Z" fill="#ff80ff"/>
<path d="M577.5 190.5L581.5 194.5L577.5 198.5L573.5 194.5Z" fill="#ff80ff"/>
<path d="M596.5 166.5L600.5 170.5L596.5 174.5L592.5 170.5Z" fill="#ff80ff"/>
<path d="M615.5 148.5L619.5 152.5L615.5 156.5L611.5 152.5Z" fill="#ff80ff"/>
<path d="M634.5 136.5L638.5 140.5L634.5 144.5L630.5 140.5Z" fill="#ff80ff"/>
<path d="M654.5 96.5L658.5 100.5L654.5 104.5L650.5 100.5Z" fill="#ff80ff"/>
</g>
<g filter="url(#idf)"><text transform="translate(193,222) scale(0.8197,1)" y="0"><tspan x="0.00 7.32 14.64 21.96 29.28 36.60 43.92 51.24 58.56">Elsewhere</tspan><tspan x="73.20 80.52">::</tspan><tspan x="95.16 102.48 109.80 117.12 124.44 131.76">Brazil</tspan></text></g>
<g shape-rendering="crispEdges">
<line x1="313" y1="217.5" x2="342" y2="217.5" stroke="#00c060" stroke-width="1"/>
<polyline fill="none" stroke="#00c060" stroke-width="1" stroke-linejoin="round" points="98.6,509.0 117.8,496.0 136.9,489.0 156.1,471.0 175.2,458.4 194.4,439.6 213.5,421.0 232.6,408.8 251.8,395.3 270.9,383.3 290.1,372.4 309.2,357.0 328.4,342.5 347.5,333.0 366.6,323.0 385.8,309.0 404.9,297.5 424.1,288.7 443.2,281.3 462.4,271.7 481.5,258.0 500.6,246.7 519.8,233.3 538.9,217.5 558.1,202.5 577.2,167.5 596.4,144.4 615.5,137.0 634.6,115.0 653.8,100.0"/>
<path d="M324.0 217.5H331.0M327.5 214.0V221.0" stroke="#00c060" stroke-width="1" fill="none"/>
<path d="M95.0 509.5H102.0M98.5 506.0V513.0" stroke="#00c060" stroke-width="1" fill="none"/>
<path d="M115.0 496.5H122.0M118.5 493.0V500.0" stroke="#00c060" stroke-width="1" fill="none"/>
<path d="M134.0 489.5H141.0M137.5 486.0V493.0" stroke="#00c060" stroke-width="1" fill="none"/>
<path d="M153.0 471.5H160.0M156.5 468.0V475.0" stroke="#00c060" stroke-width="1" fill="none"/>
<path d="M172.0 458.5H179.0M175.5 455.0V462.0" stroke="#00c060" stroke-width="1" fill="none"/>
<path d="M191.0 439.5H198.0M194.5 436.0V443.0" stroke="#00c060" stroke-width="1" fill="none"/>
<path d="M210.0 421.5H217.0M213.5 418.0V425.0" stroke="#00c060" stroke-width="1" fill="none"/>
<path d="M229.0 409.5H236.0M232.5 406.0V413.0" stroke="#00c060" stroke-width="1" fill="none"/>
<path d="M249.0 395.5H256.0M252.5 392.0V399.0" stroke="#00c060" stroke-width="1" fill="none"/>
<path d="M268.0 383.5H275.0M271.5 380.0V387.0" stroke="#00c060" stroke-width="1" fill="none"/>
<path d="M287.0 372.5H294.0M290.5 369.0V376.0" stroke="#00c060" stroke-width="1" fill="none"/>
<path d="M306.0 357.5H313.0M309.5 354.0V361.0" stroke="#00c060" stroke-width="1" fill="none"/>
<path d="M325.0 342.5H332.0M328.5 339.0V346.0" stroke="#00c060" stroke-width="1" fill="none"/>
<path d="M344.0 333.5H351.0M347.5 330.0V337.0" stroke="#00c060" stroke-width="1" fill="none"/>
<path d="M363.0 323.5H370.0M366.5 320.0V327.0" stroke="#00c060" stroke-width="1" fill="none"/>
<path d="M383.0 309.5H390.0M386.5 306.0V313.0" stroke="#00c060" stroke-width="1" fill="none"/>
<path d="M402.0 297.5H409.0M405.5 294.0V301.0" stroke="#00c060" stroke-width="1" fill="none"/>
<path d="M421.0 288.5H428.0M424.5 285.0V292.0" stroke="#00c060" stroke-width="1" fill="none"/>
<path d="M440.0 281.5H447.0M443.5 278.0V285.0" stroke="#00c060" stroke-width="1" fill="none"/>
<path d="M459.0 271.5H466.0M462.5 268.0V275.0" stroke="#00c060" stroke-width="1" fill="none"/>
<path d="M478.0 258.5H485.0M481.5 255.0V262.0" stroke="#00c060" stroke-width="1" fill="none"/>
<path d="M497.0 246.5H504.0M500.5 243.0V250.0" stroke="#00c060" stroke-width="1" fill="none"/>
<path d="M517.0 233.5H524.0M520.5 230.0V237.0" stroke="#00c060" stroke-width="1" fill="none"/>
<path d="M536.0 217.5H543.0M539.5 214.0V221.0" stroke="#00c060" stroke-width="1" fill="none"/>
<path d="M555.0 202.5H562.0M558.5 199.0V206.0" stroke="#00c060" stroke-width="1" fill="none"/>
<path d="M574.0 167.5H581.0M577.5 164.0V171.0" stroke="#00c060" stroke-width="1" fill="none"/>
<path d="M593.0 144.5H600.0M596.5 141.0V148.0" stroke="#00c060" stroke-width="1" fill="none"/>
<path d="M612.0 137.5H619.0M615.5 134.0V141.0" stroke="#00c060" stroke-width="1" fill="none"/>
<path d="M631.0 115.5H638.0M634.5 112.0V119.0" stroke="#00c060" stroke-width="1" fill="none"/>
<path d="M651.0 100.5H658.0M654.5 97.0V104.0" stroke="#00c060" stroke-width="1" fill="none"/>
</g>
<g filter="url(#idf)"><text transform="translate(127,235) scale(0.8197,1)" y="0"><tspan x="0.00 7.32 14.64">USA</tspan><tspan x="29.28 36.60">::</tspan><tspan x="51.24 58.56 65.88 73.20 80.52">Texas</tspan><tspan x="95.16 102.48">::</tspan><tspan x="117.12 124.44 131.76 139.08 146.40 153.72">Corpus</tspan><tspan x="168.36 175.68 183.00 190.32 197.64 204.96 212.28">Christi</tspan></text></g>
<g shape-rendering="crispEdges">
<line x1="313" y1="230.5" x2="342" y2="230.5" stroke="#00c0c0" stroke-width="1"/>
<polyline fill="none" stroke="#00c0c0" stroke-width="1" stroke-linejoin="round" points="98.6,508.0 117.8,496.0 136.9,488.0 156.1,470.0 175.2,458.0 194.4,445.0 213.5,432.0 232.6,418.0 251.8,403.0 270.9,385.0 290.1,368.0 309.2,368.0 328.4,370.0 347.5,358.0 366.6,348.0 385.8,337.0 404.9,326.0 424.1,315.0 443.2,306.7 462.4,302.5 481.5,290.0 500.6,275.0 519.8,262.0 538.9,249.0 558.1,239.0 577.2,208.8 596.4,184.5 615.5,163.0 634.6,152.8 653.8,103.0"/>
<path d="M324.0 227.0L331.0 234.0M324.0 234.0L331.0 227.0" stroke="#00c0c0" stroke-width="1" fill="none"/>
<path d="M95.0 505.0L102.0 512.0M95.0 512.0L102.0 505.0" stroke="#00c0c0" stroke-width="1" fill="none"/>
<path d="M115.0 493.0L122.0 500.0M115.0 500.0L122.0 493.0" stroke="#00c0c0" stroke-width="1" fill="none"/>
<path d="M134.0 485.0L141.0 492.0M134.0 492.0L141.0 485.0" stroke="#00c0c0" stroke-width="1" fill="none"/>
<path d="M153.0 467.0L160.0 474.0M153.0 474.0L160.0 467.0" stroke="#00c0c0" stroke-width="1" fill="none"/>
<path d="M172.0 455.0L179.0 462.0M172.0 462.0L179.0 455.0" stroke="#00c0c0" stroke-width="1" fill="none"/>
<path d="M191.0 442.0L198.0 449.0M191.0 449.0L198.0 442.0" stroke="#00c0c0" stroke-width="1" fill="none"/>
<path d="M210.0 429.0L217.0 436.0M210.0 436.0L217.0 429.0" stroke="#00c0c0" stroke-width="1" fill="none"/>
<path d="M229.0 415.0L236.0 422.0M229.0 422.0L236.0 415.0" stroke="#00c0c0" stroke-width="1" fill="none"/>
<path d="M249.0 400.0L256.0 407.0M249.0 407.0L256.0 400.0" stroke="#00c0c0" stroke-width="1" fill="none"/>
<path d="M268.0 382.0L275.0 389.0M268.0 389.0L275.0 382.0" stroke="#00c0c0" stroke-width="1" fill="none"/>
<path d="M287.0 365.0L294.0 372.0M287.0 372.0L294.0 365.0" stroke="#00c0c0" stroke-width="1" fill="none"/>
<path d="M306.0 365.0L313.0 372.0M306.0 372.0L313.0 365.0" stroke="#00c0c0" stroke-width="1" fill="none"/>
<path d="M325.0 367.0L332.0 374.0M325.0 374.0L332.0 367.0" stroke="#00c0c0" stroke-width="1" fill="none"/>
<path d="M344.0 355.0L351.0 362.0M344.0 362.0L351.0 355.0" stroke="#00c0c0" stroke-width="1" fill="none"/>
<path d="M363.0 345.0L370.0 352.0M363.0 352.0L370.0 345.0" stroke="#00c0c0" stroke-width="1" fill="none"/>
<path d="M383.0 334.0L390.0 341.0M383.0 341.0L390.0 334.0" stroke="#00c0c0" stroke-width="1" fill="none"/>
<path d="M402.0 323.0L409.0 330.0M402.0 330.0L409.0 323.0" stroke="#00c0c0" stroke-width="1" fill="none"/>
<path d="M421.0 312.0L428.0 319.0M421.0 319.0L428.0 312.0" stroke="#00c0c0" stroke-width="1" fill="none"/>
<path d="M440.0 303.0L447.0 310.0M440.0 310.0L447.0 303.0" stroke="#00c0c0" stroke-width="1" fill="none"/>
<path d="M459.0 299.0L466.0 306.0M459.0 306.0L466.0 299.0" stroke="#00c0c0" stroke-width="1" fill="none"/>
<path d="M478.0 287.0L485.0 294.0M478.0 294.0L485.0 287.0" stroke="#00c0c0" stroke-width="1" fill="none"/>
<path d="M497.0 272.0L504.0 279.0M497.0 279.0L504.0 272.0" stroke="#00c0c0" stroke-width="1" fill="none"/>
<path d="M517.0 259.0L524.0 266.0M517.0 266.0L524.0 259.0" stroke="#00c0c0" stroke-width="1" fill="none"/>
<path d="M536.0 246.0L543.0 253.0M536.0 253.0L543.0 246.0" stroke="#00c0c0" stroke-width="1" fill="none"/>
<path d="M555.0 236.0L562.0 243.0M555.0 243.0L562.0 236.0" stroke="#00c0c0" stroke-width="1" fill="none"/>
<path d="M574.0 206.0L581.0 213.0M574.0 213.0L581.0 206.0" stroke="#00c0c0" stroke-width="1" fill="none"/>
<path d="M593.0 181.0L600.0 188.0M593.0 188.0L600.0 181.0" stroke="#00c0c0" stroke-width="1" fill="none"/>
<path d="M612.0 160.0L619.0 167.0M612.0 167.0L619.0 160.0" stroke="#00c0c0" stroke-width="1" fill="none"/>
<path d="M631.0 150.0L638.0 157.0M631.0 157.0L638.0 150.0" stroke="#00c0c0" stroke-width="1" fill="none"/>
<path d="M651.0 100.0L658.0 107.0M651.0 107.0L658.0 100.0" stroke="#00c0c0" stroke-width="1" fill="none"/>
</g>
</svg></body></html>
